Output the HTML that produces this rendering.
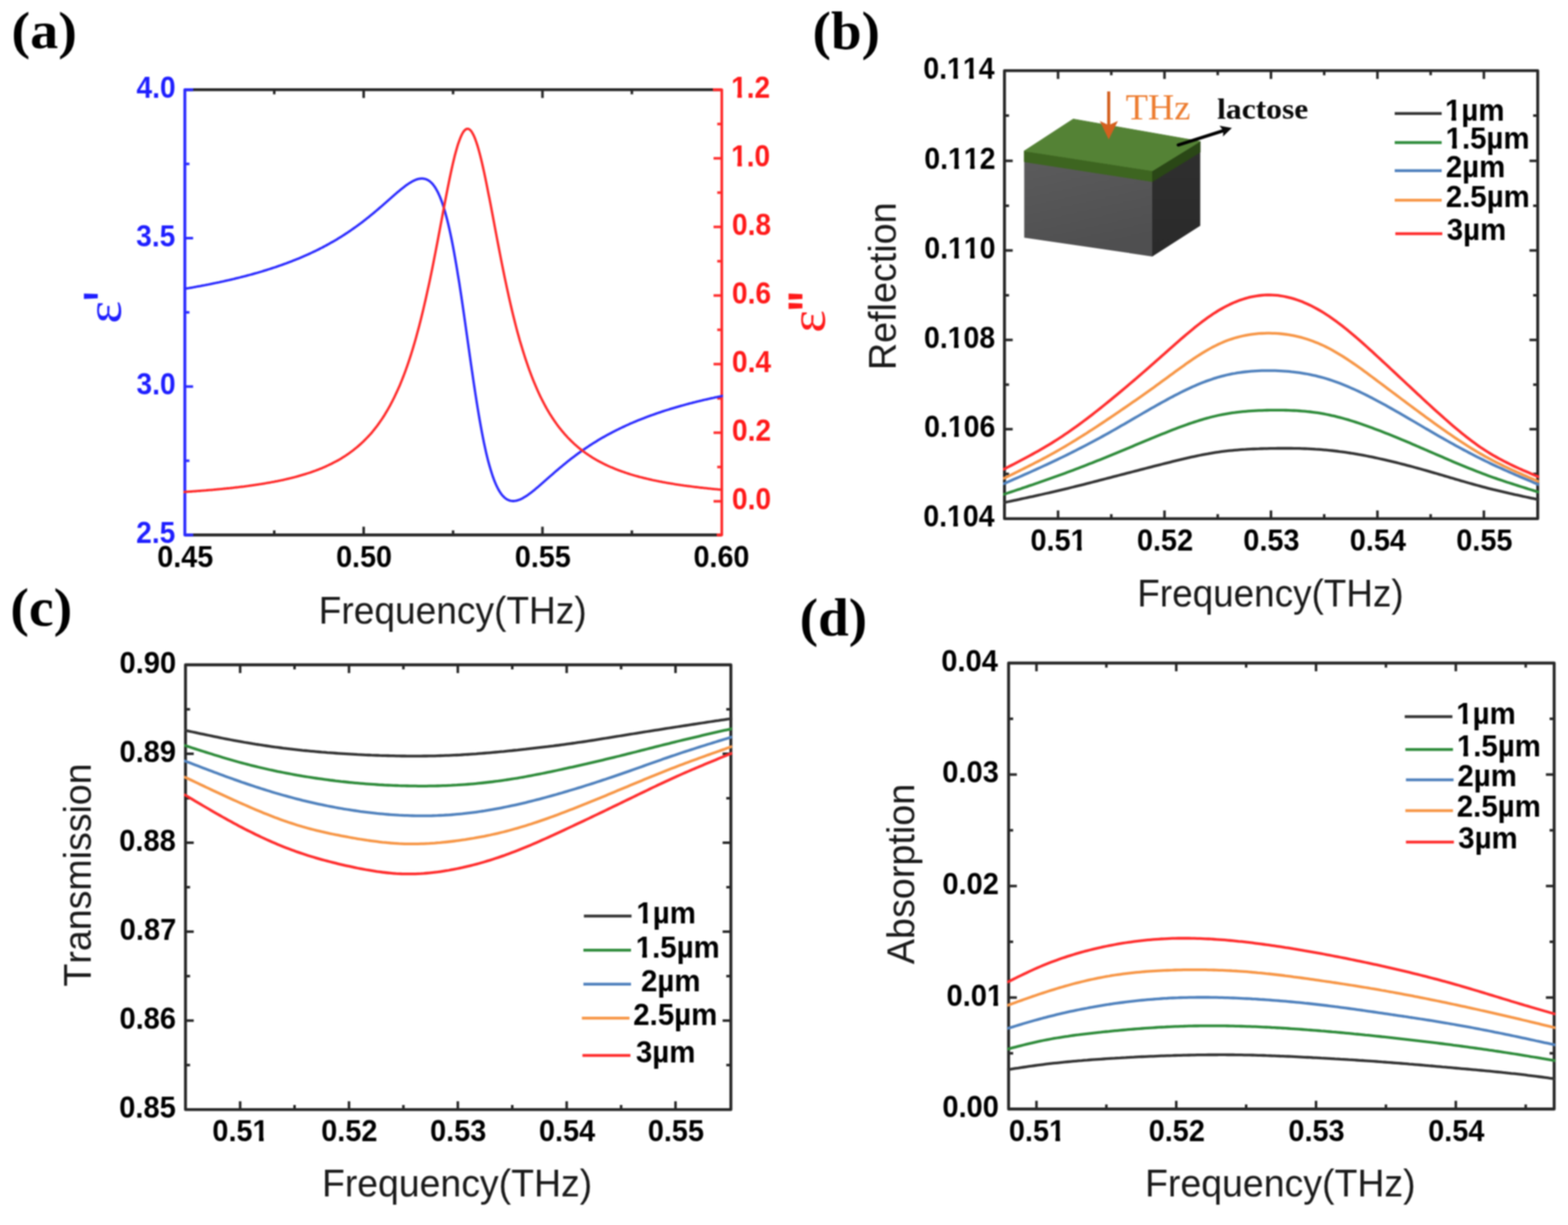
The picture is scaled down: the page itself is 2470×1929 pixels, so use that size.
<!DOCTYPE html>
<html lang="en"><head><meta charset="utf-8"><title>Figure</title>
<style>
html,body{margin:0;padding:0;background:#fff;}
body{width:2470px;height:1929px;overflow:hidden;}
svg{display:block;}
text{white-space:pre;font-kerning:none;font-variant-ligatures:none;}
</style></head><body>
<svg width="2470" height="1929" viewBox="0 0 2470 1929">
<rect width="2470" height="1929" fill="#fff"/>
<g style="filter:blur(1px)">
<rect x="-20" y="-20" width="2510" height="1969" fill="#fff"/>
<clipPath id="ca"><rect x="288.9" y="141.3" width="850.2" height="701.1"/></clipPath>
<line x1="291.2" y1="141.3" x2="1137" y2="141.3" stroke="#262626" stroke-width="4.6" stroke-linecap="butt"/>
<line x1="291.2" y1="842.4" x2="1137" y2="842.4" stroke="#262626" stroke-width="4.6" stroke-linecap="butt"/>
<line x1="291.2" y1="141.3" x2="291.2" y2="842.4" stroke="#2b2bff" stroke-width="4.6" stroke-linecap="round"/>
<line x1="1137" y1="141.3" x2="1137" y2="842.4" stroke="#ff2a2a" stroke-width="4.2" stroke-linecap="round"/>
<line x1="291.2" y1="141.3" x2="304.4" y2="141.3" stroke="#2b2bff" stroke-width="4.6" stroke-linecap="butt"/>
<line x1="291.2" y1="842.4" x2="304.4" y2="842.4" stroke="#2b2bff" stroke-width="4.6" stroke-linecap="butt"/>
<line x1="1123" y1="141.3" x2="1137" y2="141.3" stroke="#ff2a2a" stroke-width="4.6" stroke-linecap="butt"/>
<line x1="1129" y1="842.4" x2="1137" y2="842.4" stroke="#ff2a2a" stroke-width="4.6" stroke-linecap="butt"/>
<line x1="572.87" y1="141.3" x2="572.87" y2="154.3" stroke="#262626" stroke-width="4" stroke-linecap="butt"/>
<line x1="854.53" y1="141.3" x2="854.53" y2="154.3" stroke="#262626" stroke-width="4" stroke-linecap="butt"/>
<line x1="432.03" y1="141.3" x2="432.03" y2="148.5" stroke="#262626" stroke-width="4" stroke-linecap="butt"/>
<line x1="713.7" y1="141.3" x2="713.7" y2="148.5" stroke="#262626" stroke-width="4" stroke-linecap="butt"/>
<line x1="995.37" y1="141.3" x2="995.37" y2="148.5" stroke="#262626" stroke-width="4" stroke-linecap="butt"/>
<line x1="572.87" y1="842.4" x2="572.87" y2="829.4" stroke="#262626" stroke-width="4" stroke-linecap="butt"/>
<line x1="854.53" y1="842.4" x2="854.53" y2="829.4" stroke="#262626" stroke-width="4" stroke-linecap="butt"/>
<line x1="432.03" y1="842.4" x2="432.03" y2="835.2" stroke="#262626" stroke-width="4" stroke-linecap="butt"/>
<line x1="713.7" y1="842.4" x2="713.7" y2="835.2" stroke="#262626" stroke-width="4" stroke-linecap="butt"/>
<line x1="995.37" y1="842.4" x2="995.37" y2="835.2" stroke="#262626" stroke-width="4" stroke-linecap="butt"/>
<line x1="291.2" y1="375" x2="304.2" y2="375" stroke="#2b2bff" stroke-width="4" stroke-linecap="butt"/>
<line x1="291.2" y1="608.7" x2="304.2" y2="608.7" stroke="#2b2bff" stroke-width="4" stroke-linecap="butt"/>
<line x1="291.2" y1="258.15" x2="298.4" y2="258.15" stroke="#2b2bff" stroke-width="4" stroke-linecap="butt"/>
<line x1="291.2" y1="491.85" x2="298.4" y2="491.85" stroke="#2b2bff" stroke-width="4" stroke-linecap="butt"/>
<line x1="291.2" y1="725.55" x2="298.4" y2="725.55" stroke="#2b2bff" stroke-width="4" stroke-linecap="butt"/>
<line x1="1137" y1="249.32" x2="1124" y2="249.32" stroke="#ff2a2a" stroke-width="4" stroke-linecap="butt"/>
<line x1="1137" y1="357.33" x2="1124" y2="357.33" stroke="#ff2a2a" stroke-width="4" stroke-linecap="butt"/>
<line x1="1137" y1="465.35" x2="1124" y2="465.35" stroke="#ff2a2a" stroke-width="4" stroke-linecap="butt"/>
<line x1="1137" y1="573.37" x2="1124" y2="573.37" stroke="#ff2a2a" stroke-width="4" stroke-linecap="butt"/>
<line x1="1137" y1="681.38" x2="1124" y2="681.38" stroke="#ff2a2a" stroke-width="4" stroke-linecap="butt"/>
<line x1="1137" y1="789.4" x2="1124" y2="789.4" stroke="#ff2a2a" stroke-width="4" stroke-linecap="butt"/>
<line x1="1137" y1="195.31" x2="1129.8" y2="195.31" stroke="#ff2a2a" stroke-width="4" stroke-linecap="butt"/>
<line x1="1137" y1="303.32" x2="1129.8" y2="303.32" stroke="#ff2a2a" stroke-width="4" stroke-linecap="butt"/>
<line x1="1137" y1="411.34" x2="1129.8" y2="411.34" stroke="#ff2a2a" stroke-width="4" stroke-linecap="butt"/>
<line x1="1137" y1="519.36" x2="1129.8" y2="519.36" stroke="#ff2a2a" stroke-width="4" stroke-linecap="butt"/>
<line x1="1137" y1="627.38" x2="1129.8" y2="627.38" stroke="#ff2a2a" stroke-width="4" stroke-linecap="butt"/>
<line x1="1137" y1="735.39" x2="1129.8" y2="735.39" stroke="#ff2a2a" stroke-width="4" stroke-linecap="butt"/>
<path d="M288.9 455.1 L290.7 454.8 L292.4 454.5 L294.1 454.2 L295.8 454.0 L297.5 453.7 L299.2 453.4 L300.9 453.1 L302.6 452.8 L304.3 452.5 L306.0 452.2 L307.7 451.8 L309.4 451.5 L311.1 451.2 L312.8 450.9 L314.5 450.6 L316.2 450.3 L317.9 449.9 L319.6 449.6 L321.3 449.3 L323.0 449.0 L324.7 448.6 L326.4 448.3 L328.1 448.0 L329.8 447.6 L331.5 447.3 L333.2 446.9 L334.9 446.6 L336.6 446.2 L338.3 445.9 L340.1 445.5 L341.8 445.2 L343.5 444.8 L345.2 444.5 L346.9 444.1 L348.6 443.7 L350.3 443.4 L352.0 443.0 L353.7 442.6 L355.4 442.2 L357.1 441.8 L358.8 441.4 L360.5 441.1 L362.2 440.7 L363.9 440.3 L365.6 439.9 L367.3 439.5 L369.0 439.1 L370.7 438.6 L372.4 438.2 L374.1 437.8 L375.8 437.4 L377.5 437.0 L379.2 436.5 L380.9 436.1 L382.6 435.7 L384.3 435.2 L386.0 434.8 L387.8 434.3 L389.5 433.9 L391.2 433.4 L392.9 433.0 L394.6 432.5 L396.3 432.1 L398.0 431.6 L399.7 431.1 L401.4 430.6 L403.1 430.2 L404.8 429.7 L406.5 429.2 L408.2 428.7 L409.9 428.2 L411.6 427.7 L413.3 427.2 L415.0 426.6 L416.7 426.1 L418.4 425.6 L420.1 425.1 L421.8 424.5 L423.5 424.0 L425.2 423.5 L426.9 422.9 L428.6 422.4 L430.3 421.8 L432.0 421.2 L433.7 420.7 L435.5 420.1 L437.2 419.5 L438.9 418.9 L440.6 418.3 L442.3 417.7 L444.0 417.1 L445.7 416.5 L447.4 415.9 L449.1 415.3 L450.8 414.7 L452.5 414.0 L454.2 413.4 L455.9 412.8 L457.6 412.1 L459.3 411.5 L461.0 410.8 L462.7 410.1 L464.4 409.4 L466.1 408.8 L467.8 408.1 L469.5 407.4 L471.2 406.7 L472.9 406.0 L474.6 405.2 L476.3 404.5 L478.0 403.8 L479.7 403.0 L481.4 402.3 L483.2 401.5 L484.9 400.8 L486.6 400.0 L488.3 399.2 L490.0 398.4 L491.7 397.6 L493.4 396.8 L495.1 396.0 L496.8 395.2 L498.5 394.4 L500.2 393.5 L501.9 392.7 L503.6 391.8 L505.3 390.9 L507.0 390.1 L508.7 389.2 L510.4 388.3 L512.1 387.4 L513.8 386.5 L515.5 385.5 L517.2 384.6 L518.9 383.7 L520.6 382.7 L522.3 381.7 L524.0 380.8 L525.7 379.8 L527.4 378.8 L529.1 377.8 L530.9 376.8 L532.6 375.7 L534.3 374.7 L536.0 373.6 L537.7 372.6 L539.4 371.5 L541.1 370.4 L542.8 369.3 L544.5 368.2 L546.2 367.1 L547.9 366.0 L549.6 364.8 L551.3 363.7 L553.0 362.5 L554.7 361.3 L556.4 360.1 L558.1 358.9 L559.8 357.7 L561.5 356.5 L563.2 355.3 L564.9 354.0 L566.6 352.7 L568.3 351.5 L570.0 350.2 L571.7 348.9 L573.4 347.6 L575.1 346.2 L576.8 344.9 L578.5 343.5 L580.3 342.2 L582.0 340.8 L583.7 339.4 L585.4 338.0 L587.1 336.6 L588.8 335.2 L590.5 333.8 L592.2 332.4 L593.9 330.9 L595.6 329.5 L597.3 328.0 L599.0 326.5 L600.7 325.1 L602.4 323.6 L604.1 322.1 L605.8 320.6 L607.5 319.1 L609.2 317.6 L610.9 316.1 L612.6 314.6 L614.3 313.1 L616.0 311.6 L617.7 310.1 L619.4 308.6 L621.1 307.1 L622.8 305.6 L624.5 304.2 L626.2 302.7 L628.0 301.3 L629.7 299.8 L631.4 298.4 L633.1 297.1 L634.8 295.7 L636.5 294.4 L638.2 293.1 L639.9 291.8 L641.6 290.6 L643.3 289.5 L645.0 288.3 L646.7 287.3 L648.4 286.3 L650.1 285.4 L651.8 284.5 L653.5 283.7 L655.2 283.0 L656.9 282.4 L658.6 281.9 L660.3 281.5 L662.0 281.3 L663.7 281.1 L665.4 281.1 L667.1 281.3 L668.8 281.6 L670.5 282.0 L672.2 282.7 L673.9 283.5 L675.7 284.6 L677.4 285.8 L679.1 287.3 L680.8 289.1 L682.5 291.1 L684.2 293.3 L685.9 295.9 L687.6 298.8 L689.3 301.9 L691.0 305.4 L692.7 309.3 L694.4 313.5 L696.1 318.0 L697.8 323.0 L699.5 328.3 L701.2 334.0 L702.9 340.2 L704.6 346.7 L706.3 353.7 L708.0 361.1 L709.7 368.8 L711.4 377.0 L713.1 385.7 L714.8 394.7 L716.5 404.1 L718.2 413.8 L719.9 423.9 L721.6 434.4 L723.4 445.1 L725.1 456.2 L726.8 467.4 L728.5 479.0 L730.2 490.6 L731.9 502.5 L733.6 514.4 L735.3 526.4 L737.0 538.5 L738.7 550.5 L740.4 562.5 L742.1 574.4 L743.8 586.1 L745.5 597.7 L747.2 609.1 L748.9 620.2 L750.6 631.1 L752.3 641.7 L754.0 652.0 L755.7 661.9 L757.4 671.4 L759.1 680.6 L760.8 689.4 L762.5 697.8 L764.2 705.7 L765.9 713.3 L767.6 720.4 L769.3 727.1 L771.1 733.4 L772.8 739.3 L774.5 744.8 L776.2 750.0 L777.9 754.7 L779.6 759.0 L781.3 763.0 L783.0 766.7 L784.7 770.0 L786.4 773.0 L788.1 775.7 L789.8 778.1 L791.5 780.2 L793.2 782.0 L794.9 783.6 L796.6 785.0 L798.3 786.1 L800.0 787.1 L801.7 787.8 L803.4 788.4 L805.1 788.7 L806.8 788.9 L808.5 789.0 L810.2 788.9 L811.9 788.7 L813.6 788.3 L815.3 787.9 L817.0 787.3 L818.7 786.7 L820.5 785.9 L822.2 785.1 L823.9 784.2 L825.6 783.2 L827.3 782.2 L829.0 781.1 L830.7 780.0 L832.4 778.8 L834.1 777.5 L835.8 776.3 L837.5 775.0 L839.2 773.6 L840.9 772.2 L842.6 770.9 L844.3 769.4 L846.0 768.0 L847.7 766.6 L849.4 765.1 L851.1 763.6 L852.8 762.1 L854.5 760.6 L856.2 759.1 L857.9 757.6 L859.6 756.1 L861.3 754.6 L863.0 753.1 L864.7 751.6 L866.4 750.1 L868.2 748.6 L869.9 747.1 L871.6 745.7 L873.3 744.2 L875.0 742.7 L876.7 741.2 L878.4 739.8 L880.1 738.3 L881.8 736.9 L883.5 735.5 L885.2 734.1 L886.9 732.6 L888.6 731.2 L890.3 729.9 L892.0 728.5 L893.7 727.1 L895.4 725.8 L897.1 724.4 L898.8 723.1 L900.5 721.8 L902.2 720.5 L903.9 719.2 L905.6 717.9 L907.3 716.6 L909.0 715.4 L910.7 714.1 L912.4 712.9 L914.1 711.7 L915.9 710.5 L917.6 709.3 L919.3 708.1 L921.0 706.9 L922.7 705.7 L924.4 704.6 L926.1 703.5 L927.8 702.3 L929.5 701.2 L931.2 700.1 L932.9 699.0 L934.6 697.9 L936.3 696.9 L938.0 695.8 L939.7 694.8 L941.4 693.7 L943.1 692.7 L944.8 691.7 L946.5 690.7 L948.2 689.7 L949.9 688.7 L951.6 687.8 L953.3 686.8 L955.0 685.9 L956.7 684.9 L958.4 684.0 L960.1 683.1 L961.8 682.2 L963.6 681.3 L965.3 680.4 L967.0 679.5 L968.7 678.6 L970.4 677.8 L972.1 676.9 L973.8 676.1 L975.5 675.2 L977.2 674.4 L978.9 673.6 L980.6 672.8 L982.3 672.0 L984.0 671.2 L985.7 670.4 L987.4 669.6 L989.1 668.9 L990.8 668.1 L992.5 667.3 L994.2 666.6 L995.9 665.9 L997.6 665.1 L999.3 664.4 L1001.0 663.7 L1002.7 663.0 L1004.4 662.3 L1006.1 661.6 L1007.8 660.9 L1009.5 660.2 L1011.3 659.6 L1013.0 658.9 L1014.7 658.2 L1016.4 657.6 L1018.1 656.9 L1019.8 656.3 L1021.5 655.6 L1023.2 655.0 L1024.9 654.4 L1026.6 653.8 L1028.3 653.2 L1030.0 652.6 L1031.7 652.0 L1033.4 651.4 L1035.1 650.8 L1036.8 650.2 L1038.5 649.6 L1040.2 649.1 L1041.9 648.5 L1043.6 647.9 L1045.3 647.4 L1047.0 646.8 L1048.7 646.3 L1050.4 645.7 L1052.1 645.2 L1053.8 644.7 L1055.5 644.1 L1057.2 643.6 L1058.9 643.1 L1060.7 642.6 L1062.4 642.1 L1064.1 641.6 L1065.8 641.1 L1067.5 640.6 L1069.2 640.1 L1070.9 639.6 L1072.6 639.1 L1074.3 638.7 L1076.0 638.2 L1077.7 637.7 L1079.4 637.3 L1081.1 636.8 L1082.8 636.3 L1084.5 635.9 L1086.2 635.4 L1087.9 635.0 L1089.6 634.6 L1091.3 634.1 L1093.0 633.7 L1094.7 633.3 L1096.4 632.8 L1098.1 632.4 L1099.8 632.0 L1101.5 631.6 L1103.2 631.2 L1104.9 630.8 L1106.6 630.3 L1108.4 629.9 L1110.1 629.5 L1111.8 629.2 L1113.5 628.8 L1115.2 628.4 L1116.9 628.0 L1118.6 627.6 L1120.3 627.2 L1122.0 626.8 L1123.7 626.5 L1125.4 626.1 L1127.1 625.7 L1128.8 625.4 L1130.5 625.0 L1132.2 624.6 L1133.9 624.3 L1135.6 623.9 L1137.3 623.6 L1139.0 623.2" fill="none" stroke="#2b2bff" stroke-width="3.8" stroke-linejoin="round" stroke-linecap="butt" clip-path="url(#ca)"/>
<path d="M288.9 774.8 L290.7 774.7 L292.4 774.5 L294.1 774.4 L295.8 774.3 L297.5 774.2 L299.2 774.1 L300.9 774.0 L302.6 773.9 L304.3 773.7 L306.0 773.6 L307.7 773.5 L309.4 773.4 L311.1 773.2 L312.8 773.1 L314.5 773.0 L316.2 772.9 L317.9 772.7 L319.6 772.6 L321.3 772.4 L323.0 772.3 L324.7 772.2 L326.4 772.0 L328.1 771.9 L329.8 771.7 L331.5 771.6 L333.2 771.5 L334.9 771.3 L336.6 771.2 L338.3 771.0 L340.1 770.9 L341.8 770.7 L343.5 770.5 L345.2 770.4 L346.9 770.2 L348.6 770.1 L350.3 769.9 L352.0 769.7 L353.7 769.5 L355.4 769.4 L357.1 769.2 L358.8 769.0 L360.5 768.8 L362.2 768.7 L363.9 768.5 L365.6 768.3 L367.3 768.1 L369.0 767.9 L370.7 767.7 L372.4 767.5 L374.1 767.3 L375.8 767.1 L377.5 766.9 L379.2 766.7 L380.9 766.5 L382.6 766.3 L384.3 766.1 L386.0 765.8 L387.8 765.6 L389.5 765.4 L391.2 765.2 L392.9 764.9 L394.6 764.7 L396.3 764.5 L398.0 764.2 L399.7 764.0 L401.4 763.7 L403.1 763.5 L404.8 763.2 L406.5 763.0 L408.2 762.7 L409.9 762.4 L411.6 762.2 L413.3 761.9 L415.0 761.6 L416.7 761.3 L418.4 761.0 L420.1 760.7 L421.8 760.4 L423.5 760.1 L425.2 759.8 L426.9 759.5 L428.6 759.2 L430.3 758.9 L432.0 758.6 L433.7 758.2 L435.5 757.9 L437.2 757.6 L438.9 757.2 L440.6 756.9 L442.3 756.5 L444.0 756.1 L445.7 755.8 L447.4 755.4 L449.1 755.0 L450.8 754.6 L452.5 754.2 L454.2 753.8 L455.9 753.4 L457.6 753.0 L459.3 752.6 L461.0 752.2 L462.7 751.7 L464.4 751.3 L466.1 750.8 L467.8 750.4 L469.5 749.9 L471.2 749.4 L472.9 748.9 L474.6 748.4 L476.3 747.9 L478.0 747.4 L479.7 746.9 L481.4 746.4 L483.2 745.8 L484.9 745.3 L486.6 744.7 L488.3 744.2 L490.0 743.6 L491.7 743.0 L493.4 742.4 L495.1 741.8 L496.8 741.2 L498.5 740.5 L500.2 739.9 L501.9 739.2 L503.6 738.5 L505.3 737.9 L507.0 737.2 L508.7 736.4 L510.4 735.7 L512.1 735.0 L513.8 734.2 L515.5 733.4 L517.2 732.6 L518.9 731.8 L520.6 731.0 L522.3 730.2 L524.0 729.3 L525.7 728.4 L527.4 727.5 L529.1 726.6 L530.9 725.7 L532.6 724.8 L534.3 723.8 L536.0 722.8 L537.7 721.8 L539.4 720.7 L541.1 719.7 L542.8 718.6 L544.5 717.5 L546.2 716.3 L547.9 715.2 L549.6 714.0 L551.3 712.8 L553.0 711.5 L554.7 710.3 L556.4 709.0 L558.1 707.6 L559.8 706.3 L561.5 704.9 L563.2 703.5 L564.9 702.0 L566.6 700.5 L568.3 699.0 L570.0 697.4 L571.7 695.8 L573.4 694.1 L575.1 692.5 L576.8 690.7 L578.5 689.0 L580.3 687.1 L582.0 685.3 L583.7 683.4 L585.4 681.4 L587.1 679.4 L588.8 677.3 L590.5 675.2 L592.2 673.0 L593.9 670.8 L595.6 668.5 L597.3 666.1 L599.0 663.7 L600.7 661.2 L602.4 658.7 L604.1 656.1 L605.8 653.4 L607.5 650.6 L609.2 647.8 L610.9 644.9 L612.6 641.9 L614.3 638.8 L616.0 635.6 L617.7 632.4 L619.4 629.0 L621.1 625.6 L622.8 622.0 L624.5 618.4 L626.2 614.7 L628.0 610.8 L629.7 606.9 L631.4 602.8 L633.1 598.6 L634.8 594.3 L636.5 589.9 L638.2 585.3 L639.9 580.7 L641.6 575.9 L643.3 570.9 L645.0 565.8 L646.7 560.6 L648.4 555.2 L650.1 549.7 L651.8 544.0 L653.5 538.2 L655.2 532.2 L656.9 526.1 L658.6 519.8 L660.3 513.4 L662.0 506.7 L663.7 500.0 L665.4 493.0 L667.1 485.9 L668.8 478.6 L670.5 471.2 L672.2 463.6 L673.9 455.8 L675.7 447.9 L677.4 439.8 L679.1 431.6 L680.8 423.3 L682.5 414.8 L684.2 406.2 L685.9 397.5 L687.6 388.7 L689.3 379.8 L691.0 370.9 L692.7 361.9 L694.4 352.8 L696.1 343.8 L697.8 334.8 L699.5 325.8 L701.2 316.9 L702.9 308.1 L704.6 299.4 L706.3 290.8 L708.0 282.5 L709.7 274.4 L711.4 266.5 L713.1 258.9 L714.8 251.7 L716.5 244.8 L718.2 238.4 L719.9 232.4 L721.6 226.8 L723.4 221.8 L725.1 217.3 L726.8 213.4 L728.5 210.0 L730.2 207.3 L731.9 205.2 L733.6 203.8 L735.3 203.0 L737.0 202.8 L738.7 203.3 L740.4 204.5 L742.1 206.3 L743.8 208.8 L745.5 211.9 L747.2 215.5 L748.9 219.8 L750.6 224.6 L752.3 229.9 L754.0 235.7 L755.7 242.0 L757.4 248.7 L759.1 255.8 L760.8 263.2 L762.5 270.9 L764.2 278.9 L765.9 287.2 L767.6 295.7 L769.3 304.3 L771.1 313.1 L772.8 321.9 L774.5 330.9 L776.2 339.9 L777.9 348.9 L779.6 358.0 L781.3 367.0 L783.0 376.0 L784.7 384.9 L786.4 393.7 L788.1 402.5 L789.8 411.1 L791.5 419.6 L793.2 428.0 L794.9 436.3 L796.6 444.4 L798.3 452.4 L800.0 460.2 L801.7 467.9 L803.4 475.4 L805.1 482.8 L806.8 490.0 L808.5 497.0 L810.2 503.8 L811.9 510.5 L813.6 517.1 L815.3 523.4 L817.0 529.6 L818.7 535.7 L820.5 541.6 L822.2 547.3 L823.9 552.9 L825.6 558.3 L827.3 563.6 L829.0 568.7 L830.7 573.7 L832.4 578.6 L834.1 583.3 L835.8 587.9 L837.5 592.4 L839.2 596.8 L840.9 601.0 L842.6 605.1 L844.3 609.1 L846.0 613.0 L847.7 616.8 L849.4 620.5 L851.1 624.1 L852.8 627.5 L854.5 630.9 L856.2 634.2 L857.9 637.4 L859.6 640.5 L861.3 643.6 L863.0 646.5 L864.7 649.4 L866.4 652.2 L868.2 654.9 L869.9 657.6 L871.6 660.1 L873.3 662.7 L875.0 665.1 L876.7 667.5 L878.4 669.8 L880.1 672.1 L881.8 674.3 L883.5 676.4 L885.2 678.5 L886.9 680.5 L888.6 682.5 L890.3 684.4 L892.0 686.3 L893.7 688.2 L895.4 690.0 L897.1 691.7 L898.8 693.4 L900.5 695.1 L902.2 696.7 L903.9 698.3 L905.6 699.8 L907.3 701.4 L909.0 702.8 L910.7 704.3 L912.4 705.7 L914.1 707.1 L915.9 708.4 L917.6 709.7 L919.3 711.0 L921.0 712.2 L922.7 713.5 L924.4 714.7 L926.1 715.8 L927.8 717.0 L929.5 718.1 L931.2 719.2 L932.9 720.3 L934.6 721.3 L936.3 722.3 L938.0 723.3 L939.7 724.3 L941.4 725.3 L943.1 726.2 L944.8 727.1 L946.5 728.0 L948.2 728.9 L949.9 729.8 L951.6 730.6 L953.3 731.5 L955.0 732.3 L956.7 733.1 L958.4 733.9 L960.1 734.6 L961.8 735.4 L963.6 736.1 L965.3 736.8 L967.0 737.5 L968.7 738.2 L970.4 738.9 L972.1 739.6 L973.8 740.2 L975.5 740.9 L977.2 741.5 L978.9 742.1 L980.6 742.7 L982.3 743.3 L984.0 743.9 L985.7 744.5 L987.4 745.0 L989.1 745.6 L990.8 746.1 L992.5 746.7 L994.2 747.2 L995.9 747.7 L997.6 748.2 L999.3 748.7 L1001.0 749.2 L1002.7 749.7 L1004.4 750.1 L1006.1 750.6 L1007.8 751.1 L1009.5 751.5 L1011.3 751.9 L1013.0 752.4 L1014.7 752.8 L1016.4 753.2 L1018.1 753.6 L1019.8 754.0 L1021.5 754.4 L1023.2 754.8 L1024.9 755.2 L1026.6 755.6 L1028.3 756.0 L1030.0 756.3 L1031.7 756.7 L1033.4 757.0 L1035.1 757.4 L1036.8 757.7 L1038.5 758.1 L1040.2 758.4 L1041.9 758.7 L1043.6 759.1 L1045.3 759.4 L1047.0 759.7 L1048.7 760.0 L1050.4 760.3 L1052.1 760.6 L1053.8 760.9 L1055.5 761.2 L1057.2 761.5 L1058.9 761.7 L1060.7 762.0 L1062.4 762.3 L1064.1 762.6 L1065.8 762.8 L1067.5 763.1 L1069.2 763.3 L1070.9 763.6 L1072.6 763.9 L1074.3 764.1 L1076.0 764.3 L1077.7 764.6 L1079.4 764.8 L1081.1 765.0 L1082.8 765.3 L1084.5 765.5 L1086.2 765.7 L1087.9 765.9 L1089.6 766.2 L1091.3 766.4 L1093.0 766.6 L1094.7 766.8 L1096.4 767.0 L1098.1 767.2 L1099.8 767.4 L1101.5 767.6 L1103.2 767.8 L1104.9 768.0 L1106.6 768.2 L1108.4 768.4 L1110.1 768.6 L1111.8 768.7 L1113.5 768.9 L1115.2 769.1 L1116.9 769.3 L1118.6 769.4 L1120.3 769.6 L1122.0 769.8 L1123.7 770.0 L1125.4 770.1 L1127.1 770.3 L1128.8 770.4 L1130.5 770.6 L1132.2 770.8 L1133.9 770.9 L1135.6 771.1 L1137.3 771.2 L1139.0 771.4" fill="none" stroke="#ff2a2a" stroke-width="3.8" stroke-linejoin="round" stroke-linecap="butt" clip-path="url(#ca)"/>
<g transform="translate(215.06 153.9) scale(0.9050 1)"><text font-family="'Liberation Sans',sans-serif" font-weight="bold" font-size="48.9" fill="#1f1fff">4.0</text></g>
<g transform="translate(214.61 387.6) scale(0.9050 1)"><text font-family="'Liberation Sans',sans-serif" font-weight="bold" font-size="48.9" fill="#1f1fff">3.5</text></g>
<g transform="translate(215.06 621.3) scale(0.9050 1)"><text font-family="'Liberation Sans',sans-serif" font-weight="bold" font-size="48.9" fill="#1f1fff">3.0</text></g>
<g transform="translate(214.61 855) scale(0.9050 1)"><text font-family="'Liberation Sans',sans-serif" font-weight="bold" font-size="48.9" fill="#1f1fff">2.5</text></g>
<g transform="translate(1151.7 153.8) scale(0.9050 1)"><text font-family="'Liberation Sans',sans-serif" font-weight="bold" font-size="48.9" fill="#ff1a1a">1.2</text><rect x="0.98" y="-6.19" width="9.92" height="7.39" fill="#fff"/><rect x="18.64" y="-6.19" width="8.56" height="7.39" fill="#fff"/></g>
<g transform="translate(1151.7 261.82) scale(0.9050 1)"><text font-family="'Liberation Sans',sans-serif" font-weight="bold" font-size="48.9" fill="#ff1a1a">1.0</text><rect x="0.98" y="-6.19" width="9.92" height="7.39" fill="#fff"/><rect x="18.64" y="-6.19" width="8.56" height="7.39" fill="#fff"/></g>
<g transform="translate(1153.03 369.83) scale(0.9050 1)"><text font-family="'Liberation Sans',sans-serif" font-weight="bold" font-size="48.9" fill="#ff1a1a">0.8</text></g>
<g transform="translate(1153.03 477.85) scale(0.9050 1)"><text font-family="'Liberation Sans',sans-serif" font-weight="bold" font-size="48.9" fill="#ff1a1a">0.6</text></g>
<g transform="translate(1153.03 585.87) scale(0.9050 1)"><text font-family="'Liberation Sans',sans-serif" font-weight="bold" font-size="48.9" fill="#ff1a1a">0.4</text></g>
<g transform="translate(1153.03 693.88) scale(0.9050 1)"><text font-family="'Liberation Sans',sans-serif" font-weight="bold" font-size="48.9" fill="#ff1a1a">0.2</text></g>
<g transform="translate(1153.03 801.9) scale(0.9050 1)"><text font-family="'Liberation Sans',sans-serif" font-weight="bold" font-size="48.9" fill="#ff1a1a">0.0</text></g>
<g transform="translate(247.75 892.5) scale(0.9450 1)"><text font-family="'Liberation Sans',sans-serif" font-weight="bold" font-size="47.9" fill="#000">0.45</text></g>
<g transform="translate(529.42 892.5) scale(0.9450 1)"><text font-family="'Liberation Sans',sans-serif" font-weight="bold" font-size="47.9" fill="#000">0.50</text></g>
<g transform="translate(811.08 892.5) scale(0.9450 1)"><text font-family="'Liberation Sans',sans-serif" font-weight="bold" font-size="47.9" fill="#000">0.55</text></g>
<g transform="translate(1092.45 892.5) scale(0.9450 1)"><text font-family="'Liberation Sans',sans-serif" font-weight="bold" font-size="47.9" fill="#000">0.60</text></g>
<g transform="translate(502.03 981.9) scale(0.9617 1)"><text font-family="'Liberation Sans',sans-serif" font-weight="normal" font-size="60.8" fill="#1a1a1a">Frequency(THz)</text></g>
<text transform="translate(189.52 509.49) rotate(-90) scale(1.0891 1)" font-family="'Liberation Serif',serif" font-weight="normal" font-size="77.92" fill="#1f1fff">ε</text>
<text transform="translate(191.75 473.96) rotate(-90) scale(0.7192 1)" font-family="'Liberation Sans',sans-serif" font-weight="bold" font-size="87.6" fill="#1f1fff">'</text>
<text transform="translate(1299.22 523.99) rotate(-90) scale(1.0891 1)" font-family="'Liberation Serif',serif" font-weight="normal" font-size="77.92" fill="#ff1a1a">ε</text>
<text transform="translate(1302.33 491.15) rotate(-90) scale(0.8088 1)" font-family="'Liberation Sans',sans-serif" font-weight="bold" font-size="88" fill="#ff1a1a">"</text>
<text transform="translate(17.96 75.63) scale(1.0687 1)" font-family="'Liberation Serif',serif" font-weight="bold" font-size="82.83" fill="#000">(a)</text>
<clipPath id="cb"><rect x="1580" y="111.3" width="844.6" height="705.5"/></clipPath>
<rect x="1582.3" y="111.3" width="840" height="705.5" fill="none" stroke="#262626" stroke-width="4.6" stroke-linejoin="round"/>
<line x1="1666.7" y1="111.3" x2="1666.7" y2="124.3" stroke="#262626" stroke-width="4" stroke-linecap="butt"/>
<line x1="1834.4" y1="111.3" x2="1834.4" y2="124.3" stroke="#262626" stroke-width="4" stroke-linecap="butt"/>
<line x1="2002.1" y1="111.3" x2="2002.1" y2="124.3" stroke="#262626" stroke-width="4" stroke-linecap="butt"/>
<line x1="2169.8" y1="111.3" x2="2169.8" y2="124.3" stroke="#262626" stroke-width="4" stroke-linecap="butt"/>
<line x1="2337.5" y1="111.3" x2="2337.5" y2="124.3" stroke="#262626" stroke-width="4" stroke-linecap="butt"/>
<line x1="1750.55" y1="111.3" x2="1750.55" y2="118.5" stroke="#262626" stroke-width="4" stroke-linecap="butt"/>
<line x1="1918.25" y1="111.3" x2="1918.25" y2="118.5" stroke="#262626" stroke-width="4" stroke-linecap="butt"/>
<line x1="2085.95" y1="111.3" x2="2085.95" y2="118.5" stroke="#262626" stroke-width="4" stroke-linecap="butt"/>
<line x1="2253.65" y1="111.3" x2="2253.65" y2="118.5" stroke="#262626" stroke-width="4" stroke-linecap="butt"/>
<line x1="1666.7" y1="816.8" x2="1666.7" y2="803.8" stroke="#262626" stroke-width="4" stroke-linecap="butt"/>
<line x1="1834.4" y1="816.8" x2="1834.4" y2="803.8" stroke="#262626" stroke-width="4" stroke-linecap="butt"/>
<line x1="2002.1" y1="816.8" x2="2002.1" y2="803.8" stroke="#262626" stroke-width="4" stroke-linecap="butt"/>
<line x1="2169.8" y1="816.8" x2="2169.8" y2="803.8" stroke="#262626" stroke-width="4" stroke-linecap="butt"/>
<line x1="2337.5" y1="816.8" x2="2337.5" y2="803.8" stroke="#262626" stroke-width="4" stroke-linecap="butt"/>
<line x1="1750.55" y1="816.8" x2="1750.55" y2="809.6" stroke="#262626" stroke-width="4" stroke-linecap="butt"/>
<line x1="1918.25" y1="816.8" x2="1918.25" y2="809.6" stroke="#262626" stroke-width="4" stroke-linecap="butt"/>
<line x1="2085.95" y1="816.8" x2="2085.95" y2="809.6" stroke="#262626" stroke-width="4" stroke-linecap="butt"/>
<line x1="2253.65" y1="816.8" x2="2253.65" y2="809.6" stroke="#262626" stroke-width="4" stroke-linecap="butt"/>
<line x1="1582.3" y1="253.3" x2="1595.3" y2="253.3" stroke="#262626" stroke-width="4" stroke-linecap="butt"/>
<line x1="1582.3" y1="394.4" x2="1595.3" y2="394.4" stroke="#262626" stroke-width="4" stroke-linecap="butt"/>
<line x1="1582.3" y1="535.3" x2="1595.3" y2="535.3" stroke="#262626" stroke-width="4" stroke-linecap="butt"/>
<line x1="1582.3" y1="675.8" x2="1595.3" y2="675.8" stroke="#262626" stroke-width="4" stroke-linecap="butt"/>
<line x1="1582.3" y1="182" x2="1589.5" y2="182" stroke="#262626" stroke-width="4" stroke-linecap="butt"/>
<line x1="1582.3" y1="324" x2="1589.5" y2="324" stroke="#262626" stroke-width="4" stroke-linecap="butt"/>
<line x1="1582.3" y1="465" x2="1589.5" y2="465" stroke="#262626" stroke-width="4" stroke-linecap="butt"/>
<line x1="1582.3" y1="605.7" x2="1589.5" y2="605.7" stroke="#262626" stroke-width="4" stroke-linecap="butt"/>
<line x1="1582.3" y1="746.3" x2="1589.5" y2="746.3" stroke="#262626" stroke-width="4" stroke-linecap="butt"/>
<line x1="2422.3" y1="253.3" x2="2409.3" y2="253.3" stroke="#262626" stroke-width="4" stroke-linecap="butt"/>
<line x1="2422.3" y1="394.4" x2="2409.3" y2="394.4" stroke="#262626" stroke-width="4" stroke-linecap="butt"/>
<line x1="2422.3" y1="535.3" x2="2409.3" y2="535.3" stroke="#262626" stroke-width="4" stroke-linecap="butt"/>
<line x1="2422.3" y1="675.8" x2="2409.3" y2="675.8" stroke="#262626" stroke-width="4" stroke-linecap="butt"/>
<line x1="2422.3" y1="182" x2="2415.1" y2="182" stroke="#262626" stroke-width="4" stroke-linecap="butt"/>
<line x1="2422.3" y1="324" x2="2415.1" y2="324" stroke="#262626" stroke-width="4" stroke-linecap="butt"/>
<line x1="2422.3" y1="465" x2="2415.1" y2="465" stroke="#262626" stroke-width="4" stroke-linecap="butt"/>
<line x1="2422.3" y1="605.7" x2="2415.1" y2="605.7" stroke="#262626" stroke-width="4" stroke-linecap="butt"/>
<line x1="2422.3" y1="746.3" x2="2415.1" y2="746.3" stroke="#262626" stroke-width="4" stroke-linecap="butt"/>
<path d="M1580.0 791.8 L1584.2 790.9 L1588.5 790.0 L1592.7 789.1 L1597.0 788.2 L1601.2 787.3 L1605.5 786.4 L1609.7 785.4 L1614.0 784.5 L1618.2 783.6 L1622.4 782.7 L1626.7 781.8 L1630.9 780.8 L1635.2 779.9 L1639.4 779.0 L1643.7 778.0 L1647.9 777.0 L1652.2 776.1 L1656.4 775.1 L1660.6 774.1 L1664.9 773.1 L1669.1 772.1 L1673.4 771.1 L1677.6 770.1 L1681.9 769.1 L1686.1 768.0 L1690.3 767.0 L1694.6 765.9 L1698.8 764.9 L1703.1 763.8 L1707.3 762.8 L1711.6 761.7 L1715.8 760.6 L1720.1 759.5 L1724.3 758.4 L1728.5 757.3 L1732.8 756.2 L1737.0 755.1 L1741.3 754.0 L1745.5 752.9 L1749.8 751.8 L1754.0 750.7 L1758.3 749.6 L1762.5 748.5 L1766.7 747.4 L1771.0 746.3 L1775.2 745.2 L1779.5 744.1 L1783.7 743.0 L1788.0 741.9 L1792.2 740.8 L1796.5 739.7 L1800.7 738.6 L1804.9 737.5 L1809.2 736.4 L1813.4 735.3 L1817.7 734.2 L1821.9 733.2 L1826.2 732.1 L1830.4 731.0 L1834.7 729.9 L1838.9 728.8 L1843.1 727.8 L1847.4 726.7 L1851.6 725.7 L1855.9 724.6 L1860.1 723.6 L1864.4 722.6 L1868.6 721.6 L1872.9 720.6 L1877.1 719.7 L1881.3 718.8 L1885.6 717.9 L1889.8 717.0 L1894.1 716.1 L1898.3 715.3 L1902.6 714.6 L1906.8 713.8 L1911.0 713.1 L1915.3 712.4 L1919.5 711.8 L1923.8 711.2 L1928.0 710.7 L1932.3 710.2 L1936.5 709.7 L1940.8 709.3 L1945.0 708.9 L1949.2 708.6 L1953.5 708.2 L1957.7 707.9 L1962.0 707.7 L1966.2 707.4 L1970.5 707.2 L1974.7 707.0 L1979.0 706.8 L1983.2 706.7 L1987.4 706.5 L1991.7 706.4 L1995.9 706.3 L2000.2 706.2 L2004.4 706.2 L2008.7 706.1 L2012.9 706.0 L2017.2 706.0 L2021.4 706.0 L2025.6 706.0 L2029.9 706.0 L2034.1 706.0 L2038.4 706.1 L2042.6 706.2 L2046.9 706.2 L2051.1 706.4 L2055.4 706.5 L2059.6 706.7 L2063.8 706.9 L2068.1 707.1 L2072.3 707.4 L2076.6 707.6 L2080.8 707.9 L2085.1 708.3 L2089.3 708.7 L2093.6 709.1 L2097.8 709.5 L2102.0 710.0 L2106.3 710.5 L2110.5 711.1 L2114.8 711.6 L2119.0 712.2 L2123.3 712.9 L2127.5 713.5 L2131.7 714.2 L2136.0 714.9 L2140.2 715.7 L2144.5 716.4 L2148.7 717.2 L2153.0 718.0 L2157.2 718.9 L2161.5 719.7 L2165.7 720.6 L2169.9 721.5 L2174.2 722.5 L2178.4 723.4 L2182.7 724.4 L2186.9 725.4 L2191.2 726.4 L2195.4 727.4 L2199.7 728.4 L2203.9 729.5 L2208.1 730.6 L2212.4 731.7 L2216.6 732.8 L2220.9 733.9 L2225.1 735.0 L2229.4 736.2 L2233.6 737.4 L2237.9 738.5 L2242.1 739.7 L2246.3 740.9 L2250.6 742.1 L2254.8 743.4 L2259.1 744.6 L2263.3 745.8 L2267.6 747.1 L2271.8 748.3 L2276.1 749.6 L2280.3 750.8 L2284.5 752.1 L2288.8 753.3 L2293.0 754.6 L2297.3 755.8 L2301.5 757.1 L2305.8 758.3 L2310.0 759.5 L2314.3 760.7 L2318.5 761.9 L2322.7 763.1 L2327.0 764.3 L2331.2 765.4 L2335.5 766.6 L2339.7 767.7 L2344.0 768.8 L2348.2 769.8 L2352.4 770.9 L2356.7 771.9 L2360.9 772.9 L2365.2 773.9 L2369.4 774.9 L2373.7 775.9 L2377.9 776.9 L2382.2 777.8 L2386.4 778.8 L2390.6 779.7 L2394.9 780.6 L2399.1 781.6 L2403.4 782.5 L2407.6 783.4 L2411.9 784.3 L2416.1 785.2 L2420.4 786.1 L2424.6 787.0" fill="none" stroke="#333333" stroke-width="4.3" stroke-linejoin="round" stroke-linecap="butt" clip-path="url(#cb)"/>
<path d="M1580.0 778.9 L1584.2 777.5 L1588.5 776.0 L1592.7 774.6 L1597.0 773.2 L1601.2 771.8 L1605.5 770.4 L1609.7 768.9 L1614.0 767.5 L1618.2 766.1 L1622.4 764.6 L1626.7 763.2 L1630.9 761.7 L1635.2 760.3 L1639.4 758.8 L1643.7 757.3 L1647.9 755.8 L1652.2 754.3 L1656.4 752.8 L1660.6 751.3 L1664.9 749.8 L1669.1 748.3 L1673.4 746.7 L1677.6 745.2 L1681.9 743.6 L1686.1 742.0 L1690.3 740.4 L1694.6 738.8 L1698.8 737.2 L1703.1 735.6 L1707.3 733.9 L1711.6 732.3 L1715.8 730.6 L1720.1 729.0 L1724.3 727.3 L1728.5 725.6 L1732.8 723.9 L1737.0 722.2 L1741.3 720.5 L1745.5 718.8 L1749.8 717.0 L1754.0 715.3 L1758.3 713.5 L1762.5 711.8 L1766.7 710.0 L1771.0 708.2 L1775.2 706.4 L1779.5 704.7 L1783.7 702.9 L1788.0 701.1 L1792.2 699.3 L1796.5 697.6 L1800.7 695.8 L1804.9 694.0 L1809.2 692.3 L1813.4 690.5 L1817.7 688.8 L1821.9 687.0 L1826.2 685.3 L1830.4 683.6 L1834.7 681.9 L1838.9 680.2 L1843.1 678.5 L1847.4 676.8 L1851.6 675.2 L1855.9 673.6 L1860.1 672.0 L1864.4 670.4 L1868.6 668.9 L1872.9 667.4 L1877.1 666.0 L1881.3 664.6 L1885.6 663.2 L1889.8 661.9 L1894.1 660.6 L1898.3 659.3 L1902.6 658.2 L1906.8 657.0 L1911.0 656.0 L1915.3 655.0 L1919.5 654.0 L1923.8 653.2 L1928.0 652.3 L1932.3 651.6 L1936.5 650.9 L1940.8 650.2 L1945.0 649.7 L1949.2 649.1 L1953.5 648.6 L1957.7 648.2 L1962.0 647.8 L1966.2 647.4 L1970.5 647.1 L1974.7 646.9 L1979.0 646.6 L1983.2 646.4 L1987.4 646.3 L1991.7 646.1 L1995.9 646.0 L2000.2 645.9 L2004.4 645.9 L2008.7 645.8 L2012.9 645.8 L2017.2 645.9 L2021.4 645.9 L2025.6 646.0 L2029.9 646.1 L2034.1 646.3 L2038.4 646.5 L2042.6 646.7 L2046.9 647.0 L2051.1 647.3 L2055.4 647.7 L2059.6 648.1 L2063.8 648.5 L2068.1 649.1 L2072.3 649.6 L2076.6 650.2 L2080.8 650.9 L2085.1 651.7 L2089.3 652.5 L2093.6 653.3 L2097.8 654.3 L2102.0 655.2 L2106.3 656.3 L2110.5 657.4 L2114.8 658.5 L2119.0 659.7 L2123.3 660.9 L2127.5 662.2 L2131.7 663.5 L2136.0 664.9 L2140.2 666.3 L2144.5 667.7 L2148.7 669.2 L2153.0 670.7 L2157.2 672.2 L2161.5 673.8 L2165.7 675.4 L2169.9 677.0 L2174.2 678.6 L2178.4 680.2 L2182.7 681.9 L2186.9 683.6 L2191.2 685.3 L2195.4 687.0 L2199.7 688.8 L2203.9 690.5 L2208.1 692.3 L2212.4 694.0 L2216.6 695.8 L2220.9 697.6 L2225.1 699.4 L2229.4 701.2 L2233.6 703.1 L2237.9 704.9 L2242.1 706.7 L2246.3 708.6 L2250.6 710.4 L2254.8 712.2 L2259.1 714.1 L2263.3 715.9 L2267.6 717.8 L2271.8 719.6 L2276.1 721.4 L2280.3 723.2 L2284.5 725.1 L2288.8 726.9 L2293.0 728.7 L2297.3 730.5 L2301.5 732.2 L2305.8 734.0 L2310.0 735.7 L2314.3 737.4 L2318.5 739.1 L2322.7 740.8 L2327.0 742.5 L2331.2 744.1 L2335.5 745.7 L2339.7 747.3 L2344.0 748.9 L2348.2 750.4 L2352.4 751.9 L2356.7 753.4 L2360.9 754.9 L2365.2 756.3 L2369.4 757.7 L2373.7 759.2 L2377.9 760.5 L2382.2 761.9 L2386.4 763.3 L2390.6 764.6 L2394.9 766.0 L2399.1 767.3 L2403.4 768.6 L2407.6 770.0 L2411.9 771.3 L2416.1 772.6 L2420.4 773.9 L2424.6 775.2" fill="none" stroke="#2e8b3a" stroke-width="4.3" stroke-linejoin="round" stroke-linecap="butt" clip-path="url(#cb)"/>
<path d="M1580.0 762.3 L1584.2 760.4 L1588.5 758.6 L1592.7 756.7 L1597.0 754.8 L1601.2 753.0 L1605.5 751.1 L1609.7 749.2 L1614.0 747.3 L1618.2 745.5 L1622.4 743.6 L1626.7 741.6 L1630.9 739.7 L1635.2 737.8 L1639.4 735.9 L1643.7 733.9 L1647.9 732.0 L1652.2 730.0 L1656.4 728.0 L1660.6 726.0 L1664.9 724.0 L1669.1 721.9 L1673.4 719.9 L1677.6 717.8 L1681.9 715.7 L1686.1 713.6 L1690.3 711.5 L1694.6 709.4 L1698.8 707.2 L1703.1 705.0 L1707.3 702.8 L1711.6 700.6 L1715.8 698.4 L1720.1 696.1 L1724.3 693.9 L1728.5 691.6 L1732.8 689.3 L1737.0 687.0 L1741.3 684.6 L1745.5 682.3 L1749.8 679.9 L1754.0 677.5 L1758.3 675.1 L1762.5 672.7 L1766.7 670.2 L1771.0 667.8 L1775.2 665.3 L1779.5 662.9 L1783.7 660.4 L1788.0 657.9 L1792.2 655.5 L1796.5 653.0 L1800.7 650.5 L1804.9 648.1 L1809.2 645.6 L1813.4 643.2 L1817.7 640.8 L1821.9 638.4 L1826.2 636.0 L1830.4 633.6 L1834.7 631.3 L1838.9 629.0 L1843.1 626.7 L1847.4 624.5 L1851.6 622.2 L1855.9 620.1 L1860.1 617.9 L1864.4 615.8 L1868.6 613.8 L1872.9 611.8 L1877.1 609.8 L1881.3 607.9 L1885.6 606.1 L1889.8 604.3 L1894.1 602.6 L1898.3 600.9 L1902.6 599.4 L1906.8 597.9 L1911.0 596.4 L1915.3 595.1 L1919.5 593.8 L1923.8 592.7 L1928.0 591.6 L1932.3 590.5 L1936.5 589.6 L1940.8 588.7 L1945.0 588.0 L1949.2 587.2 L1953.5 586.6 L1957.7 586.0 L1962.0 585.5 L1966.2 585.1 L1970.5 584.7 L1974.7 584.4 L1979.0 584.1 L1983.2 583.9 L1987.4 583.7 L1991.7 583.6 L1995.9 583.6 L2000.2 583.6 L2004.4 583.6 L2008.7 583.7 L2012.9 583.9 L2017.2 584.1 L2021.4 584.3 L2025.6 584.6 L2029.9 584.9 L2034.1 585.4 L2038.4 585.8 L2042.6 586.3 L2046.9 586.9 L2051.1 587.6 L2055.4 588.3 L2059.6 589.0 L2063.8 589.9 L2068.1 590.8 L2072.3 591.7 L2076.6 592.8 L2080.8 593.9 L2085.1 595.0 L2089.3 596.3 L2093.6 597.6 L2097.8 599.0 L2102.0 600.5 L2106.3 602.0 L2110.5 603.6 L2114.8 605.3 L2119.0 607.0 L2123.3 608.7 L2127.5 610.6 L2131.7 612.4 L2136.0 614.4 L2140.2 616.3 L2144.5 618.4 L2148.7 620.4 L2153.0 622.5 L2157.2 624.7 L2161.5 626.8 L2165.7 629.1 L2169.9 631.3 L2174.2 633.6 L2178.4 635.9 L2182.7 638.2 L2186.9 640.6 L2191.2 643.0 L2195.4 645.4 L2199.7 647.8 L2203.9 650.2 L2208.1 652.7 L2212.4 655.1 L2216.6 657.6 L2220.9 660.1 L2225.1 662.5 L2229.4 665.0 L2233.6 667.5 L2237.9 670.0 L2242.1 672.5 L2246.3 675.0 L2250.6 677.4 L2254.8 679.9 L2259.1 682.4 L2263.3 684.8 L2267.6 687.3 L2271.8 689.7 L2276.1 692.1 L2280.3 694.5 L2284.5 696.9 L2288.8 699.2 L2293.0 701.6 L2297.3 703.9 L2301.5 706.2 L2305.8 708.5 L2310.0 710.7 L2314.3 713.0 L2318.5 715.2 L2322.7 717.4 L2327.0 719.6 L2331.2 721.7 L2335.5 723.8 L2339.7 725.9 L2344.0 727.9 L2348.2 730.0 L2352.4 732.0 L2356.7 734.0 L2360.9 735.9 L2365.2 737.8 L2369.4 739.7 L2373.7 741.6 L2377.9 743.5 L2382.2 745.4 L2386.4 747.2 L2390.6 749.1 L2394.9 750.9 L2399.1 752.7 L2403.4 754.5 L2407.6 756.3 L2411.9 758.1 L2416.1 759.9 L2420.4 761.7 L2424.6 763.5" fill="none" stroke="#4f81bd" stroke-width="4.3" stroke-linejoin="round" stroke-linecap="butt" clip-path="url(#cb)"/>
<path d="M1580.0 754.0 L1584.2 751.9 L1588.5 749.9 L1592.7 747.8 L1597.0 745.7 L1601.2 743.6 L1605.5 741.5 L1609.7 739.4 L1614.0 737.3 L1618.2 735.2 L1622.4 733.0 L1626.7 730.9 L1630.9 728.7 L1635.2 726.5 L1639.4 724.3 L1643.7 722.0 L1647.9 719.8 L1652.2 717.5 L1656.4 715.1 L1660.6 712.8 L1664.9 710.4 L1669.1 708.0 L1673.4 705.5 L1677.6 703.1 L1681.9 700.5 L1686.1 698.0 L1690.3 695.4 L1694.6 692.8 L1698.8 690.2 L1703.1 687.5 L1707.3 684.9 L1711.6 682.2 L1715.8 679.4 L1720.1 676.7 L1724.3 674.0 L1728.5 671.2 L1732.8 668.4 L1737.0 665.6 L1741.3 662.7 L1745.5 659.9 L1749.8 657.1 L1754.0 654.2 L1758.3 651.3 L1762.5 648.4 L1766.7 645.5 L1771.0 642.6 L1775.2 639.7 L1779.5 636.8 L1783.7 633.8 L1788.0 630.9 L1792.2 627.9 L1796.5 624.9 L1800.7 622.0 L1804.9 619.0 L1809.2 615.9 L1813.4 612.9 L1817.7 609.9 L1821.9 606.8 L1826.2 603.7 L1830.4 600.6 L1834.7 597.5 L1838.9 594.4 L1843.1 591.3 L1847.4 588.2 L1851.6 585.1 L1855.9 582.0 L1860.1 578.9 L1864.4 575.9 L1868.6 572.8 L1872.9 569.9 L1877.1 567.0 L1881.3 564.1 L1885.6 561.3 L1889.8 558.6 L1894.1 555.9 L1898.3 553.3 L1902.6 550.9 L1906.8 548.5 L1911.0 546.2 L1915.3 544.1 L1919.5 542.0 L1923.8 540.1 L1928.0 538.3 L1932.3 536.6 L1936.5 535.1 L1940.8 533.6 L1945.0 532.3 L1949.2 531.1 L1953.5 530.0 L1957.7 529.0 L1962.0 528.1 L1966.2 527.3 L1970.5 526.7 L1974.7 526.1 L1979.0 525.6 L1983.2 525.2 L1987.4 525.0 L1991.7 524.8 L1995.9 524.7 L2000.2 524.7 L2004.4 524.8 L2008.7 524.9 L2012.9 525.2 L2017.2 525.5 L2021.4 526.0 L2025.6 526.5 L2029.9 527.1 L2034.1 527.9 L2038.4 528.7 L2042.6 529.6 L2046.9 530.6 L2051.1 531.7 L2055.4 533.0 L2059.6 534.3 L2063.8 535.7 L2068.1 537.2 L2072.3 538.9 L2076.6 540.6 L2080.8 542.5 L2085.1 544.4 L2089.3 546.5 L2093.6 548.7 L2097.8 550.9 L2102.0 553.3 L2106.3 555.8 L2110.5 558.3 L2114.8 560.9 L2119.0 563.6 L2123.3 566.4 L2127.5 569.3 L2131.7 572.1 L2136.0 575.1 L2140.2 578.1 L2144.5 581.1 L2148.7 584.2 L2153.0 587.3 L2157.2 590.4 L2161.5 593.6 L2165.7 596.8 L2169.9 599.9 L2174.2 603.1 L2178.4 606.3 L2182.7 609.5 L2186.9 612.7 L2191.2 615.9 L2195.4 619.1 L2199.7 622.2 L2203.9 625.4 L2208.1 628.6 L2212.4 631.8 L2216.6 634.9 L2220.9 638.1 L2225.1 641.3 L2229.4 644.4 L2233.6 647.6 L2237.9 650.7 L2242.1 653.8 L2246.3 656.9 L2250.6 660.0 L2254.8 663.1 L2259.1 666.2 L2263.3 669.2 L2267.6 672.2 L2271.8 675.2 L2276.1 678.2 L2280.3 681.2 L2284.5 684.1 L2288.8 687.0 L2293.0 689.9 L2297.3 692.7 L2301.5 695.5 L2305.8 698.3 L2310.0 701.0 L2314.3 703.7 L2318.5 706.3 L2322.7 708.9 L2327.0 711.5 L2331.2 714.0 L2335.5 716.4 L2339.7 718.8 L2344.0 721.1 L2348.2 723.4 L2352.4 725.6 L2356.7 727.8 L2360.9 729.9 L2365.2 732.0 L2369.4 734.1 L2373.7 736.1 L2377.9 738.1 L2382.2 740.1 L2386.4 742.0 L2390.6 743.9 L2394.9 745.8 L2399.1 747.7 L2403.4 749.5 L2407.6 751.4 L2411.9 753.2 L2416.1 755.0 L2420.4 756.9 L2424.6 758.7" fill="none" stroke="#f79646" stroke-width="4.3" stroke-linejoin="round" stroke-linecap="butt" clip-path="url(#cb)"/>
<path d="M1580.0 739.6 L1584.2 737.4 L1588.5 735.2 L1592.7 733.0 L1597.0 730.8 L1601.2 728.6 L1605.5 726.4 L1609.7 724.2 L1614.0 721.9 L1618.2 719.7 L1622.4 717.4 L1626.7 715.0 L1630.9 712.7 L1635.2 710.3 L1639.4 707.9 L1643.7 705.4 L1647.9 702.9 L1652.2 700.4 L1656.4 697.8 L1660.6 695.2 L1664.9 692.5 L1669.1 689.8 L1673.4 687.0 L1677.6 684.1 L1681.9 681.2 L1686.1 678.3 L1690.3 675.3 L1694.6 672.3 L1698.8 669.2 L1703.1 666.1 L1707.3 662.9 L1711.6 659.7 L1715.8 656.5 L1720.1 653.2 L1724.3 649.9 L1728.5 646.6 L1732.8 643.2 L1737.0 639.9 L1741.3 636.4 L1745.5 633.0 L1749.8 629.5 L1754.0 626.0 L1758.3 622.5 L1762.5 619.0 L1766.7 615.5 L1771.0 611.9 L1775.2 608.3 L1779.5 604.7 L1783.7 601.1 L1788.0 597.5 L1792.2 593.8 L1796.5 590.2 L1800.7 586.5 L1804.9 582.8 L1809.2 579.1 L1813.4 575.4 L1817.7 571.7 L1821.9 567.9 L1826.2 564.2 L1830.4 560.4 L1834.7 556.7 L1838.9 552.9 L1843.1 549.1 L1847.4 545.4 L1851.6 541.6 L1855.9 537.9 L1860.1 534.2 L1864.4 530.5 L1868.6 526.9 L1872.9 523.3 L1877.1 519.8 L1881.3 516.3 L1885.6 512.9 L1889.8 509.6 L1894.1 506.3 L1898.3 503.2 L1902.6 500.1 L1906.8 497.2 L1911.0 494.3 L1915.3 491.6 L1919.5 488.9 L1923.8 486.5 L1928.0 484.1 L1932.3 481.9 L1936.5 479.8 L1940.8 477.8 L1945.0 475.9 L1949.2 474.2 L1953.5 472.6 L1957.7 471.2 L1962.0 469.9 L1966.2 468.7 L1970.5 467.7 L1974.7 466.8 L1979.0 466.1 L1983.2 465.5 L1987.4 465.0 L1991.7 464.7 L1995.9 464.5 L2000.2 464.5 L2004.4 464.6 L2008.7 464.8 L2012.9 465.2 L2017.2 465.8 L2021.4 466.5 L2025.6 467.3 L2029.9 468.3 L2034.1 469.4 L2038.4 470.6 L2042.6 472.0 L2046.9 473.5 L2051.1 475.1 L2055.4 476.9 L2059.6 478.7 L2063.8 480.7 L2068.1 482.9 L2072.3 485.1 L2076.6 487.5 L2080.8 489.9 L2085.1 492.5 L2089.3 495.2 L2093.6 498.0 L2097.8 501.0 L2102.0 504.0 L2106.3 507.1 L2110.5 510.3 L2114.8 513.5 L2119.0 516.9 L2123.3 520.3 L2127.5 523.8 L2131.7 527.4 L2136.0 531.0 L2140.2 534.7 L2144.5 538.4 L2148.7 542.2 L2153.0 546.0 L2157.2 549.8 L2161.5 553.7 L2165.7 557.6 L2169.9 561.5 L2174.2 565.4 L2178.4 569.3 L2182.7 573.3 L2186.9 577.2 L2191.2 581.2 L2195.4 585.1 L2199.7 589.1 L2203.9 593.1 L2208.1 597.0 L2212.4 601.0 L2216.6 605.0 L2220.9 608.9 L2225.1 612.9 L2229.4 616.9 L2233.6 620.8 L2237.9 624.7 L2242.1 628.7 L2246.3 632.6 L2250.6 636.5 L2254.8 640.4 L2259.1 644.3 L2263.3 648.1 L2267.6 651.9 L2271.8 655.7 L2276.1 659.5 L2280.3 663.2 L2284.5 666.9 L2288.8 670.6 L2293.0 674.2 L2297.3 677.7 L2301.5 681.2 L2305.8 684.6 L2310.0 688.0 L2314.3 691.3 L2318.5 694.5 L2322.7 697.6 L2327.0 700.7 L2331.2 703.7 L2335.5 706.5 L2339.7 709.3 L2344.0 712.0 L2348.2 714.6 L2352.4 717.1 L2356.7 719.5 L2360.9 721.9 L2365.2 724.2 L2369.4 726.4 L2373.7 728.5 L2377.9 730.6 L2382.2 732.7 L2386.4 734.7 L2390.6 736.6 L2394.9 738.6 L2399.1 740.4 L2403.4 742.3 L2407.6 744.1 L2411.9 746.0 L2416.1 747.8 L2420.4 749.6 L2424.6 751.4" fill="none" stroke="#ff2d2d" stroke-width="4.3" stroke-linejoin="round" stroke-linecap="butt" clip-path="url(#cb)"/>
<g transform="translate(1454.48 123.9) scale(0.9350 1)"><text font-family="'Liberation Sans',sans-serif" font-weight="bold" font-size="47.9" fill="#000">0.114</text><rect x="40.9" y="-6.09" width="9.7" height="7.29" fill="#fff"/><rect x="58.22" y="-6.09" width="8.38" height="7.29" fill="#fff"/><rect x="67.54" y="-6.09" width="9.7" height="7.29" fill="#fff"/><rect x="84.86" y="-6.09" width="8.38" height="7.29" fill="#fff"/></g>
<g transform="translate(1455.98 265.9) scale(0.9350 1)"><text font-family="'Liberation Sans',sans-serif" font-weight="bold" font-size="47.9" fill="#000">0.112</text><rect x="40.9" y="-6.09" width="9.7" height="7.29" fill="#fff"/><rect x="58.22" y="-6.09" width="8.38" height="7.29" fill="#fff"/><rect x="67.54" y="-6.09" width="9.7" height="7.29" fill="#fff"/><rect x="84.86" y="-6.09" width="8.38" height="7.29" fill="#fff"/></g>
<g transform="translate(1455.98 407) scale(0.9350 1)"><text font-family="'Liberation Sans',sans-serif" font-weight="bold" font-size="47.9" fill="#000">0.110</text><rect x="40.9" y="-6.09" width="9.7" height="7.29" fill="#fff"/><rect x="58.22" y="-6.09" width="8.38" height="7.29" fill="#fff"/><rect x="67.54" y="-6.09" width="9.7" height="7.29" fill="#fff"/><rect x="84.86" y="-6.09" width="8.38" height="7.29" fill="#fff"/></g>
<g transform="translate(1455.53 547.9) scale(0.9350 1)"><text font-family="'Liberation Sans',sans-serif" font-weight="bold" font-size="47.9" fill="#000">0.108</text><rect x="40.9" y="-6.09" width="9.7" height="7.29" fill="#fff"/><rect x="58.22" y="-6.09" width="8.38" height="7.29" fill="#fff"/></g>
<g transform="translate(1455.83 688.4) scale(0.9350 1)"><text font-family="'Liberation Sans',sans-serif" font-weight="bold" font-size="47.9" fill="#000">0.106</text><rect x="40.9" y="-6.09" width="9.7" height="7.29" fill="#fff"/><rect x="58.22" y="-6.09" width="8.38" height="7.29" fill="#fff"/></g>
<g transform="translate(1454.48 829.4) scale(0.9350 1)"><text font-family="'Liberation Sans',sans-serif" font-weight="bold" font-size="47.9" fill="#000">0.104</text><rect x="40.9" y="-6.09" width="9.7" height="7.29" fill="#fff"/><rect x="58.22" y="-6.09" width="8.38" height="7.29" fill="#fff"/></g>
<g transform="translate(1623.22 867) scale(0.9500 1)"><text font-family="'Liberation Sans',sans-serif" font-weight="bold" font-size="47.9" fill="#000">0.51</text><rect x="67.54" y="-6.09" width="9.7" height="7.29" fill="#fff"/><rect x="84.86" y="-6.09" width="8.38" height="7.29" fill="#fff"/></g>
<g transform="translate(1790.92 867) scale(0.9500 1)"><text font-family="'Liberation Sans',sans-serif" font-weight="bold" font-size="47.9" fill="#000">0.52</text></g>
<g transform="translate(1958.62 867) scale(0.9500 1)"><text font-family="'Liberation Sans',sans-serif" font-weight="bold" font-size="47.9" fill="#000">0.53</text></g>
<g transform="translate(2126.32 867) scale(0.9500 1)"><text font-family="'Liberation Sans',sans-serif" font-weight="bold" font-size="47.9" fill="#000">0.54</text></g>
<g transform="translate(2294.02 867) scale(0.9500 1)"><text font-family="'Liberation Sans',sans-serif" font-weight="bold" font-size="47.9" fill="#000">0.55</text></g>
<g transform="translate(1791.56 955.2) scale(0.9557 1)"><text font-family="'Liberation Sans',sans-serif" font-weight="normal" font-size="60.8" fill="#1a1a1a">Frequency(THz)</text></g>
<text transform="translate(1411 582.85) rotate(-90) scale(0.9773 1)" font-family="'Liberation Sans',sans-serif" font-weight="normal" font-size="60.8" fill="#1a1a1a">Reflection</text>
<text transform="translate(1280.04 77.3) scale(1.0281 1)" font-family="'Liberation Serif',serif" font-weight="bold" font-size="84.37" fill="#000">(b)</text>
<defs><linearGradient id="gf" x1="0" y1="0" x2="0.3" y2="1"><stop offset="0" stop-color="#5b5b5c"/><stop offset="1" stop-color="#4f4f50"/></linearGradient><linearGradient id="gs" x1="0" y1="0" x2="0" y2="1"><stop offset="0" stop-color="#2f2f2f"/><stop offset="1" stop-color="#2a2a2a"/></linearGradient></defs>
<polygon points="1613.4,253.7 1815.5,284.9 1815.5,403.9 1613.4,374.2" fill="url(#gf)"/>
<polygon points="1815.0,284.9 1890.7,238.6 1890.7,355.6 1815.0,403.9" fill="url(#gs)"/>
<polygon points="1613.4,237.7 1815.5,268.9 1815.5,285.9 1613.4,254.7" fill="#3d6520" stroke="#3d6520" stroke-width="1" stroke-linejoin="round"/>
<polygon points="1815.5,268.9 1890.7,222.6 1890.7,239.6 1815.5,285.9" fill="#2a4716" stroke="#2a4716" stroke-width="1" stroke-linejoin="round"/>
<polygon points="1613.4,237.7 1815.5,268.9 1890.7,222.6 1690.6,187.4" fill="#548235" stroke="#548235" stroke-width="1" stroke-linejoin="round"/>
<line x1="1746.5" y1="144" x2="1746.5" y2="200" stroke="#d4601f" stroke-width="4.8" stroke-linecap="butt"/>
<polygon points="1732.5,190.5 1746.5,197.0 1761.0,190.5 1746.5,219.5" fill="#d4601f"/>
<g transform="translate(1773.34 188) scale(1.0150 1)"><text font-family="'Liberation Serif',serif" font-weight="normal" font-size="56.5" fill="#ed7d31">THz</text></g>
<line x1="1856" y1="228.3" x2="1928" y2="205.5" stroke="#000" stroke-width="5" stroke-linecap="round"/>
<polygon points="1940.5,201.5 1921.0,198.0 1927.0,205.8 1926.5,215.0" fill="#0a0a0a"/>
<g transform="translate(1917.3 186.6) scale(1.0586 1)"><text font-family="'Liberation Serif',serif" font-weight="bold" font-size="47" fill="#0a0a0a">lactose</text></g>
<line x1="2197" y1="178.8" x2="2271" y2="178.8" stroke="#333333" stroke-width="4.5" stroke-linecap="butt"/>
<g transform="translate(2276.15 189.7) scale(0.9680 1)"><text font-family="'Liberation Sans',sans-serif" font-weight="bold" font-size="47.9" fill="#000">1µm</text><rect x="0.96" y="-6.09" width="9.7" height="7.29" fill="#fff"/><rect x="18.27" y="-6.09" width="8.38" height="7.29" fill="#fff"/></g>
<line x1="2197" y1="224.4" x2="2271" y2="224.4" stroke="#2e8b3a" stroke-width="4.5" stroke-linecap="butt"/>
<g transform="translate(2277.15 234.1) scale(0.9680 1)"><text font-family="'Liberation Sans',sans-serif" font-weight="bold" font-size="47.9" fill="#000">1.5µm</text><rect x="0.96" y="-6.09" width="9.7" height="7.29" fill="#fff"/><rect x="18.27" y="-6.09" width="8.38" height="7.29" fill="#fff"/></g>
<line x1="2197" y1="268.8" x2="2271" y2="268.8" stroke="#4f81bd" stroke-width="4.5" stroke-linecap="butt"/>
<g transform="translate(2277.45 279.1) scale(0.9680 1)"><text font-family="'Liberation Sans',sans-serif" font-weight="bold" font-size="47.9" fill="#000">2µm</text></g>
<line x1="2197" y1="315.3" x2="2271" y2="315.3" stroke="#f79646" stroke-width="4.5" stroke-linecap="butt"/>
<g transform="translate(2277.45 325.7) scale(0.9680 1)"><text font-family="'Liberation Sans',sans-serif" font-weight="bold" font-size="47.9" fill="#000">2.5µm</text></g>
<line x1="2198" y1="367.9" x2="2272" y2="367.9" stroke="#ff2d2d" stroke-width="4.5" stroke-linecap="butt"/>
<g transform="translate(2278.92 378) scale(0.9680 1)"><text font-family="'Liberation Sans',sans-serif" font-weight="bold" font-size="47.9" fill="#000">3µm</text></g>
<clipPath id="cc"><rect x="289.9" y="1046.9" width="863.7" height="700.3"/></clipPath>
<rect x="292.2" y="1046.9" width="859.1" height="700.3" fill="none" stroke="#262626" stroke-width="4.6" stroke-linejoin="round"/>
<line x1="378.3" y1="1046.9" x2="378.3" y2="1059.9" stroke="#262626" stroke-width="4" stroke-linecap="butt"/>
<line x1="549.75" y1="1046.9" x2="549.75" y2="1059.9" stroke="#262626" stroke-width="4" stroke-linecap="butt"/>
<line x1="721.2" y1="1046.9" x2="721.2" y2="1059.9" stroke="#262626" stroke-width="4" stroke-linecap="butt"/>
<line x1="892.65" y1="1046.9" x2="892.65" y2="1059.9" stroke="#262626" stroke-width="4" stroke-linecap="butt"/>
<line x1="1064.1" y1="1046.9" x2="1064.1" y2="1059.9" stroke="#262626" stroke-width="4" stroke-linecap="butt"/>
<line x1="464.02" y1="1046.9" x2="464.02" y2="1054.1" stroke="#262626" stroke-width="4" stroke-linecap="butt"/>
<line x1="635.47" y1="1046.9" x2="635.47" y2="1054.1" stroke="#262626" stroke-width="4" stroke-linecap="butt"/>
<line x1="806.92" y1="1046.9" x2="806.92" y2="1054.1" stroke="#262626" stroke-width="4" stroke-linecap="butt"/>
<line x1="978.38" y1="1046.9" x2="978.38" y2="1054.1" stroke="#262626" stroke-width="4" stroke-linecap="butt"/>
<line x1="378.3" y1="1747.2" x2="378.3" y2="1734.2" stroke="#262626" stroke-width="4" stroke-linecap="butt"/>
<line x1="549.75" y1="1747.2" x2="549.75" y2="1734.2" stroke="#262626" stroke-width="4" stroke-linecap="butt"/>
<line x1="721.2" y1="1747.2" x2="721.2" y2="1734.2" stroke="#262626" stroke-width="4" stroke-linecap="butt"/>
<line x1="892.65" y1="1747.2" x2="892.65" y2="1734.2" stroke="#262626" stroke-width="4" stroke-linecap="butt"/>
<line x1="1064.1" y1="1747.2" x2="1064.1" y2="1734.2" stroke="#262626" stroke-width="4" stroke-linecap="butt"/>
<line x1="464.02" y1="1747.2" x2="464.02" y2="1740" stroke="#262626" stroke-width="4" stroke-linecap="butt"/>
<line x1="635.47" y1="1747.2" x2="635.47" y2="1740" stroke="#262626" stroke-width="4" stroke-linecap="butt"/>
<line x1="806.92" y1="1747.2" x2="806.92" y2="1740" stroke="#262626" stroke-width="4" stroke-linecap="butt"/>
<line x1="978.38" y1="1747.2" x2="978.38" y2="1740" stroke="#262626" stroke-width="4" stroke-linecap="butt"/>
<line x1="292.2" y1="1186.96" x2="305.2" y2="1186.96" stroke="#262626" stroke-width="4" stroke-linecap="butt"/>
<line x1="292.2" y1="1327.02" x2="305.2" y2="1327.02" stroke="#262626" stroke-width="4" stroke-linecap="butt"/>
<line x1="292.2" y1="1467.08" x2="305.2" y2="1467.08" stroke="#262626" stroke-width="4" stroke-linecap="butt"/>
<line x1="292.2" y1="1607.14" x2="305.2" y2="1607.14" stroke="#262626" stroke-width="4" stroke-linecap="butt"/>
<line x1="292.2" y1="1116.93" x2="299.4" y2="1116.93" stroke="#262626" stroke-width="4" stroke-linecap="butt"/>
<line x1="292.2" y1="1256.99" x2="299.4" y2="1256.99" stroke="#262626" stroke-width="4" stroke-linecap="butt"/>
<line x1="292.2" y1="1397.05" x2="299.4" y2="1397.05" stroke="#262626" stroke-width="4" stroke-linecap="butt"/>
<line x1="292.2" y1="1537.11" x2="299.4" y2="1537.11" stroke="#262626" stroke-width="4" stroke-linecap="butt"/>
<line x1="292.2" y1="1677.17" x2="299.4" y2="1677.17" stroke="#262626" stroke-width="4" stroke-linecap="butt"/>
<line x1="1151.3" y1="1186.96" x2="1138.3" y2="1186.96" stroke="#262626" stroke-width="4" stroke-linecap="butt"/>
<line x1="1151.3" y1="1327.02" x2="1138.3" y2="1327.02" stroke="#262626" stroke-width="4" stroke-linecap="butt"/>
<line x1="1151.3" y1="1467.08" x2="1138.3" y2="1467.08" stroke="#262626" stroke-width="4" stroke-linecap="butt"/>
<line x1="1151.3" y1="1607.14" x2="1138.3" y2="1607.14" stroke="#262626" stroke-width="4" stroke-linecap="butt"/>
<line x1="1151.3" y1="1116.93" x2="1144.1" y2="1116.93" stroke="#262626" stroke-width="4" stroke-linecap="butt"/>
<line x1="1151.3" y1="1256.99" x2="1144.1" y2="1256.99" stroke="#262626" stroke-width="4" stroke-linecap="butt"/>
<line x1="1151.3" y1="1397.05" x2="1144.1" y2="1397.05" stroke="#262626" stroke-width="4" stroke-linecap="butt"/>
<line x1="1151.3" y1="1537.11" x2="1144.1" y2="1537.11" stroke="#262626" stroke-width="4" stroke-linecap="butt"/>
<line x1="1151.3" y1="1677.17" x2="1144.1" y2="1677.17" stroke="#262626" stroke-width="4" stroke-linecap="butt"/>
<path d="M289.9 1149.7 L294.2 1150.6 L298.6 1151.6 L302.9 1152.5 L307.3 1153.4 L311.6 1154.4 L315.9 1155.3 L320.3 1156.2 L324.6 1157.1 L329.0 1158.0 L333.3 1158.9 L337.6 1159.8 L342.0 1160.7 L346.3 1161.6 L350.7 1162.5 L355.0 1163.3 L359.3 1164.2 L363.7 1165.0 L368.0 1165.8 L372.4 1166.6 L376.7 1167.4 L381.0 1168.2 L385.4 1169.0 L389.7 1169.7 L394.1 1170.4 L398.4 1171.2 L402.7 1171.9 L407.1 1172.5 L411.4 1173.2 L415.8 1173.9 L420.1 1174.5 L424.4 1175.1 L428.8 1175.8 L433.1 1176.4 L437.5 1176.9 L441.8 1177.5 L446.1 1178.1 L450.5 1178.6 L454.8 1179.1 L459.2 1179.6 L463.5 1180.1 L467.8 1180.6 L472.2 1181.1 L476.5 1181.6 L480.9 1182.0 L485.2 1182.4 L489.5 1182.8 L493.9 1183.2 L498.2 1183.6 L502.6 1184.0 L506.9 1184.4 L511.3 1184.7 L515.6 1185.1 L519.9 1185.4 L524.3 1185.7 L528.6 1186.0 L533.0 1186.3 L537.3 1186.6 L541.6 1186.9 L546.0 1187.2 L550.3 1187.4 L554.7 1187.7 L559.0 1187.9 L563.3 1188.2 L567.7 1188.4 L572.0 1188.6 L576.4 1188.8 L580.7 1189.0 L585.0 1189.2 L589.4 1189.3 L593.7 1189.5 L598.1 1189.7 L602.4 1189.8 L606.7 1189.9 L611.1 1190.0 L615.4 1190.1 L619.8 1190.2 L624.1 1190.3 L628.4 1190.4 L632.8 1190.5 L637.1 1190.5 L641.5 1190.6 L645.8 1190.6 L650.1 1190.6 L654.5 1190.6 L658.8 1190.6 L663.2 1190.6 L667.5 1190.5 L671.8 1190.5 L676.2 1190.4 L680.5 1190.3 L684.9 1190.3 L689.2 1190.1 L693.5 1190.0 L697.9 1189.9 L702.2 1189.7 L706.6 1189.6 L710.9 1189.4 L715.2 1189.2 L719.6 1189.0 L723.9 1188.8 L728.3 1188.5 L732.6 1188.2 L736.9 1188.0 L741.3 1187.7 L745.6 1187.4 L750.0 1187.1 L754.3 1186.7 L758.6 1186.4 L763.0 1186.0 L767.3 1185.7 L771.7 1185.3 L776.0 1184.9 L780.3 1184.5 L784.7 1184.1 L789.0 1183.7 L793.4 1183.3 L797.7 1182.8 L802.0 1182.4 L806.4 1182.0 L810.7 1181.5 L815.1 1181.1 L819.4 1180.6 L823.7 1180.1 L828.1 1179.7 L832.4 1179.2 L836.8 1178.7 L841.1 1178.2 L845.4 1177.7 L849.8 1177.2 L854.1 1176.7 L858.5 1176.2 L862.8 1175.7 L867.1 1175.1 L871.5 1174.6 L875.8 1174.0 L880.2 1173.5 L884.5 1172.9 L888.8 1172.3 L893.2 1171.7 L897.5 1171.1 L901.9 1170.5 L906.2 1169.9 L910.5 1169.2 L914.9 1168.6 L919.2 1168.0 L923.6 1167.3 L927.9 1166.6 L932.2 1166.0 L936.6 1165.3 L940.9 1164.6 L945.3 1163.9 L949.6 1163.2 L954.0 1162.5 L958.3 1161.8 L962.6 1161.1 L967.0 1160.4 L971.3 1159.7 L975.7 1159.0 L980.0 1158.3 L984.3 1157.6 L988.7 1156.9 L993.0 1156.2 L997.4 1155.5 L1001.7 1154.8 L1006.0 1154.1 L1010.4 1153.4 L1014.7 1152.7 L1019.1 1152.0 L1023.4 1151.3 L1027.7 1150.6 L1032.1 1149.9 L1036.4 1149.3 L1040.8 1148.6 L1045.1 1147.9 L1049.4 1147.2 L1053.8 1146.5 L1058.1 1145.8 L1062.5 1145.2 L1066.8 1144.5 L1071.1 1143.8 L1075.5 1143.1 L1079.8 1142.5 L1084.2 1141.8 L1088.5 1141.1 L1092.8 1140.5 L1097.2 1139.8 L1101.5 1139.2 L1105.9 1138.5 L1110.2 1137.9 L1114.5 1137.2 L1118.9 1136.5 L1123.2 1135.9 L1127.6 1135.2 L1131.9 1134.6 L1136.2 1133.9 L1140.6 1133.3 L1144.9 1132.7 L1149.3 1132.0 L1153.6 1131.4" fill="none" stroke="#333333" stroke-width="4.3" stroke-linejoin="round" stroke-linecap="butt" clip-path="url(#cc)"/>
<path d="M289.9 1173.5 L294.2 1174.9 L298.6 1176.3 L302.9 1177.7 L307.3 1179.1 L311.6 1180.5 L315.9 1181.9 L320.3 1183.2 L324.6 1184.6 L329.0 1186.0 L333.3 1187.3 L337.6 1188.7 L342.0 1190.0 L346.3 1191.3 L350.7 1192.7 L355.0 1194.0 L359.3 1195.2 L363.7 1196.5 L368.0 1197.7 L372.4 1199.0 L376.7 1200.2 L381.0 1201.3 L385.4 1202.5 L389.7 1203.6 L394.1 1204.8 L398.4 1205.8 L402.7 1206.9 L407.1 1208.0 L411.4 1209.0 L415.8 1210.0 L420.1 1211.0 L424.4 1212.0 L428.8 1212.9 L433.1 1213.8 L437.5 1214.8 L441.8 1215.6 L446.1 1216.5 L450.5 1217.4 L454.8 1218.2 L459.2 1219.0 L463.5 1219.8 L467.8 1220.6 L472.2 1221.3 L476.5 1222.1 L480.9 1222.8 L485.2 1223.5 L489.5 1224.2 L493.9 1224.9 L498.2 1225.5 L502.6 1226.1 L506.9 1226.7 L511.3 1227.3 L515.6 1227.9 L519.9 1228.5 L524.3 1229.0 L528.6 1229.6 L533.0 1230.1 L537.3 1230.6 L541.6 1231.0 L546.0 1231.5 L550.3 1232.0 L554.7 1232.4 L559.0 1232.8 L563.3 1233.2 L567.7 1233.6 L572.0 1233.9 L576.4 1234.3 L580.7 1234.6 L585.0 1234.9 L589.4 1235.2 L593.7 1235.5 L598.1 1235.8 L602.4 1236.0 L606.7 1236.3 L611.1 1236.5 L615.4 1236.7 L619.8 1236.9 L624.1 1237.0 L628.4 1237.2 L632.8 1237.3 L637.1 1237.4 L641.5 1237.5 L645.8 1237.6 L650.1 1237.7 L654.5 1237.7 L658.8 1237.8 L663.2 1237.8 L667.5 1237.8 L671.8 1237.8 L676.2 1237.7 L680.5 1237.7 L684.9 1237.6 L689.2 1237.5 L693.5 1237.4 L697.9 1237.2 L702.2 1237.1 L706.6 1236.9 L710.9 1236.7 L715.2 1236.4 L719.6 1236.2 L723.9 1235.9 L728.3 1235.6 L732.6 1235.3 L736.9 1235.0 L741.3 1234.6 L745.6 1234.3 L750.0 1233.9 L754.3 1233.4 L758.6 1233.0 L763.0 1232.5 L767.3 1232.0 L771.7 1231.5 L776.0 1231.0 L780.3 1230.4 L784.7 1229.9 L789.0 1229.3 L793.4 1228.7 L797.7 1228.0 L802.0 1227.4 L806.4 1226.7 L810.7 1226.0 L815.1 1225.3 L819.4 1224.5 L823.7 1223.8 L828.1 1223.0 L832.4 1222.2 L836.8 1221.4 L841.1 1220.5 L845.4 1219.7 L849.8 1218.8 L854.1 1218.0 L858.5 1217.1 L862.8 1216.2 L867.1 1215.3 L871.5 1214.4 L875.8 1213.5 L880.2 1212.5 L884.5 1211.6 L888.8 1210.6 L893.2 1209.7 L897.5 1208.7 L901.9 1207.8 L906.2 1206.8 L910.5 1205.8 L914.9 1204.8 L919.2 1203.8 L923.6 1202.9 L927.9 1201.9 L932.2 1200.9 L936.6 1199.8 L940.9 1198.8 L945.3 1197.8 L949.6 1196.8 L954.0 1195.7 L958.3 1194.7 L962.6 1193.7 L967.0 1192.6 L971.3 1191.5 L975.7 1190.5 L980.0 1189.4 L984.3 1188.3 L988.7 1187.2 L993.0 1186.1 L997.4 1185.0 L1001.7 1184.0 L1006.0 1182.8 L1010.4 1181.7 L1014.7 1180.6 L1019.1 1179.5 L1023.4 1178.4 L1027.7 1177.3 L1032.1 1176.2 L1036.4 1175.1 L1040.8 1174.0 L1045.1 1172.9 L1049.4 1171.8 L1053.8 1170.8 L1058.1 1169.7 L1062.5 1168.6 L1066.8 1167.5 L1071.1 1166.5 L1075.5 1165.4 L1079.8 1164.4 L1084.2 1163.3 L1088.5 1162.3 L1092.8 1161.3 L1097.2 1160.3 L1101.5 1159.3 L1105.9 1158.2 L1110.2 1157.2 L1114.5 1156.2 L1118.9 1155.2 L1123.2 1154.2 L1127.6 1153.2 L1131.9 1152.2 L1136.2 1151.2 L1140.6 1150.2 L1144.9 1149.3 L1149.3 1148.3 L1153.6 1147.3" fill="none" stroke="#2e8b3a" stroke-width="4.3" stroke-linejoin="round" stroke-linecap="butt" clip-path="url(#cc)"/>
<path d="M289.9 1197.8 L294.2 1199.5 L298.6 1201.1 L302.9 1202.8 L307.3 1204.5 L311.6 1206.1 L315.9 1207.8 L320.3 1209.4 L324.6 1211.1 L329.0 1212.7 L333.3 1214.3 L337.6 1216.0 L342.0 1217.6 L346.3 1219.2 L350.7 1220.8 L355.0 1222.4 L359.3 1224.0 L363.7 1225.5 L368.0 1227.1 L372.4 1228.6 L376.7 1230.1 L381.0 1231.7 L385.4 1233.1 L389.7 1234.6 L394.1 1236.1 L398.4 1237.5 L402.7 1239.0 L407.1 1240.4 L411.4 1241.8 L415.8 1243.1 L420.1 1244.5 L424.4 1245.8 L428.8 1247.2 L433.1 1248.5 L437.5 1249.7 L441.8 1251.0 L446.1 1252.2 L450.5 1253.4 L454.8 1254.6 L459.2 1255.8 L463.5 1257.0 L467.8 1258.1 L472.2 1259.2 L476.5 1260.3 L480.9 1261.3 L485.2 1262.4 L489.5 1263.4 L493.9 1264.4 L498.2 1265.3 L502.6 1266.3 L506.9 1267.2 L511.3 1268.1 L515.6 1269.0 L519.9 1269.8 L524.3 1270.7 L528.6 1271.5 L533.0 1272.3 L537.3 1273.0 L541.6 1273.8 L546.0 1274.5 L550.3 1275.2 L554.7 1275.9 L559.0 1276.5 L563.3 1277.1 L567.7 1277.8 L572.0 1278.3 L576.4 1278.9 L580.7 1279.4 L585.0 1279.9 L589.4 1280.4 L593.7 1280.9 L598.1 1281.3 L602.4 1281.7 L606.7 1282.1 L611.1 1282.5 L615.4 1282.8 L619.8 1283.1 L624.1 1283.4 L628.4 1283.7 L632.8 1283.9 L637.1 1284.1 L641.5 1284.2 L645.8 1284.4 L650.1 1284.5 L654.5 1284.6 L658.8 1284.6 L663.2 1284.7 L667.5 1284.6 L671.8 1284.6 L676.2 1284.6 L680.5 1284.5 L684.9 1284.3 L689.2 1284.2 L693.5 1284.0 L697.9 1283.8 L702.2 1283.5 L706.6 1283.3 L710.9 1283.0 L715.2 1282.6 L719.6 1282.2 L723.9 1281.8 L728.3 1281.4 L732.6 1280.9 L736.9 1280.4 L741.3 1279.9 L745.6 1279.4 L750.0 1278.8 L754.3 1278.2 L758.6 1277.5 L763.0 1276.9 L767.3 1276.2 L771.7 1275.4 L776.0 1274.7 L780.3 1273.9 L784.7 1273.1 L789.0 1272.3 L793.4 1271.4 L797.7 1270.5 L802.0 1269.6 L806.4 1268.7 L810.7 1267.8 L815.1 1266.8 L819.4 1265.8 L823.7 1264.8 L828.1 1263.8 L832.4 1262.7 L836.8 1261.6 L841.1 1260.5 L845.4 1259.4 L849.8 1258.3 L854.1 1257.2 L858.5 1256.0 L862.8 1254.8 L867.1 1253.6 L871.5 1252.4 L875.8 1251.2 L880.2 1249.9 L884.5 1248.7 L888.8 1247.4 L893.2 1246.1 L897.5 1244.8 L901.9 1243.5 L906.2 1242.2 L910.5 1240.9 L914.9 1239.6 L919.2 1238.2 L923.6 1236.8 L927.9 1235.5 L932.2 1234.1 L936.6 1232.7 L940.9 1231.3 L945.3 1229.9 L949.6 1228.4 L954.0 1227.0 L958.3 1225.5 L962.6 1224.1 L967.0 1222.6 L971.3 1221.1 L975.7 1219.6 L980.0 1218.1 L984.3 1216.6 L988.7 1215.1 L993.0 1213.6 L997.4 1212.0 L1001.7 1210.5 L1006.0 1209.0 L1010.4 1207.4 L1014.7 1205.9 L1019.1 1204.3 L1023.4 1202.8 L1027.7 1201.3 L1032.1 1199.7 L1036.4 1198.2 L1040.8 1196.7 L1045.1 1195.1 L1049.4 1193.6 L1053.8 1192.1 L1058.1 1190.6 L1062.5 1189.2 L1066.8 1187.7 L1071.1 1186.2 L1075.5 1184.8 L1079.8 1183.4 L1084.2 1182.0 L1088.5 1180.6 L1092.8 1179.2 L1097.2 1177.8 L1101.5 1176.4 L1105.9 1175.0 L1110.2 1173.7 L1114.5 1172.3 L1118.9 1171.0 L1123.2 1169.6 L1127.6 1168.3 L1131.9 1166.9 L1136.2 1165.6 L1140.6 1164.3 L1144.9 1163.0 L1149.3 1161.6 L1153.6 1160.3" fill="none" stroke="#4f81bd" stroke-width="4.3" stroke-linejoin="round" stroke-linecap="butt" clip-path="url(#cc)"/>
<path d="M289.9 1223.1 L294.2 1225.2 L298.6 1227.2 L302.9 1229.3 L307.3 1231.4 L311.6 1233.4 L315.9 1235.5 L320.3 1237.5 L324.6 1239.6 L329.0 1241.6 L333.3 1243.7 L337.6 1245.7 L342.0 1247.7 L346.3 1249.7 L350.7 1251.7 L355.0 1253.7 L359.3 1255.7 L363.7 1257.7 L368.0 1259.7 L372.4 1261.6 L376.7 1263.6 L381.0 1265.5 L385.4 1267.4 L389.7 1269.3 L394.1 1271.2 L398.4 1273.1 L402.7 1275.0 L407.1 1276.8 L411.4 1278.6 L415.8 1280.4 L420.1 1282.1 L424.4 1283.8 L428.8 1285.5 L433.1 1287.2 L437.5 1288.8 L441.8 1290.4 L446.1 1292.0 L450.5 1293.5 L454.8 1295.0 L459.2 1296.4 L463.5 1297.8 L467.8 1299.2 L472.2 1300.5 L476.5 1301.8 L480.9 1303.0 L485.2 1304.2 L489.5 1305.4 L493.9 1306.5 L498.2 1307.6 L502.6 1308.6 L506.9 1309.7 L511.3 1310.7 L515.6 1311.6 L519.9 1312.6 L524.3 1313.5 L528.6 1314.4 L533.0 1315.2 L537.3 1316.1 L541.6 1316.9 L546.0 1317.7 L550.3 1318.5 L554.7 1319.3 L559.0 1320.0 L563.3 1320.8 L567.7 1321.5 L572.0 1322.2 L576.4 1322.8 L580.7 1323.5 L585.0 1324.1 L589.4 1324.7 L593.7 1325.2 L598.1 1325.8 L602.4 1326.3 L606.7 1326.7 L611.1 1327.1 L615.4 1327.5 L619.8 1327.8 L624.1 1328.1 L628.4 1328.4 L632.8 1328.6 L637.1 1328.8 L641.5 1328.9 L645.8 1328.9 L650.1 1328.9 L654.5 1328.9 L658.8 1328.8 L663.2 1328.7 L667.5 1328.6 L671.8 1328.4 L676.2 1328.2 L680.5 1327.9 L684.9 1327.6 L689.2 1327.2 L693.5 1326.9 L697.9 1326.4 L702.2 1326.0 L706.6 1325.5 L710.9 1325.0 L715.2 1324.5 L719.6 1323.9 L723.9 1323.3 L728.3 1322.7 L732.6 1322.1 L736.9 1321.4 L741.3 1320.7 L745.6 1320.0 L750.0 1319.2 L754.3 1318.4 L758.6 1317.6 L763.0 1316.8 L767.3 1315.9 L771.7 1315.0 L776.0 1314.0 L780.3 1313.1 L784.7 1312.1 L789.0 1311.0 L793.4 1310.0 L797.7 1308.9 L802.0 1307.7 L806.4 1306.5 L810.7 1305.3 L815.1 1304.1 L819.4 1302.8 L823.7 1301.5 L828.1 1300.2 L832.4 1298.8 L836.8 1297.5 L841.1 1296.0 L845.4 1294.6 L849.8 1293.1 L854.1 1291.6 L858.5 1290.1 L862.8 1288.6 L867.1 1287.0 L871.5 1285.4 L875.8 1283.9 L880.2 1282.2 L884.5 1280.6 L888.8 1279.0 L893.2 1277.3 L897.5 1275.6 L901.9 1273.9 L906.2 1272.2 L910.5 1270.5 L914.9 1268.8 L919.2 1267.0 L923.6 1265.3 L927.9 1263.5 L932.2 1261.8 L936.6 1260.0 L940.9 1258.2 L945.3 1256.4 L949.6 1254.7 L954.0 1252.9 L958.3 1251.1 L962.6 1249.3 L967.0 1247.5 L971.3 1245.6 L975.7 1243.8 L980.0 1242.0 L984.3 1240.2 L988.7 1238.4 L993.0 1236.6 L997.4 1234.8 L1001.7 1233.0 L1006.0 1231.2 L1010.4 1229.4 L1014.7 1227.6 L1019.1 1225.8 L1023.4 1224.0 L1027.7 1222.3 L1032.1 1220.5 L1036.4 1218.7 L1040.8 1217.0 L1045.1 1215.3 L1049.4 1213.5 L1053.8 1211.8 L1058.1 1210.1 L1062.5 1208.4 L1066.8 1206.8 L1071.1 1205.1 L1075.5 1203.5 L1079.8 1201.8 L1084.2 1200.2 L1088.5 1198.6 L1092.8 1197.0 L1097.2 1195.4 L1101.5 1193.8 L1105.9 1192.3 L1110.2 1190.7 L1114.5 1189.1 L1118.9 1187.6 L1123.2 1186.0 L1127.6 1184.5 L1131.9 1182.9 L1136.2 1181.4 L1140.6 1179.9 L1144.9 1178.3 L1149.3 1176.8 L1153.6 1175.3" fill="none" stroke="#f79646" stroke-width="4.3" stroke-linejoin="round" stroke-linecap="butt" clip-path="url(#cc)"/>
<path d="M289.9 1250.9 L294.2 1253.5 L298.6 1256.1 L302.9 1258.7 L307.3 1261.3 L311.6 1263.8 L315.9 1266.4 L320.3 1269.0 L324.6 1271.5 L329.0 1274.0 L333.3 1276.6 L337.6 1279.1 L342.0 1281.6 L346.3 1284.0 L350.7 1286.5 L355.0 1288.9 L359.3 1291.4 L363.7 1293.7 L368.0 1296.1 L372.4 1298.4 L376.7 1300.8 L381.0 1303.0 L385.4 1305.3 L389.7 1307.5 L394.1 1309.7 L398.4 1311.8 L402.7 1314.0 L407.1 1316.0 L411.4 1318.1 L415.8 1320.1 L420.1 1322.1 L424.4 1324.0 L428.8 1326.0 L433.1 1327.8 L437.5 1329.7 L441.8 1331.4 L446.1 1333.2 L450.5 1334.9 L454.8 1336.6 L459.2 1338.2 L463.5 1339.8 L467.8 1341.4 L472.2 1342.9 L476.5 1344.3 L480.9 1345.8 L485.2 1347.2 L489.5 1348.5 L493.9 1349.8 L498.2 1351.1 L502.6 1352.4 L506.9 1353.6 L511.3 1354.8 L515.6 1355.9 L519.9 1357.0 L524.3 1358.1 L528.6 1359.2 L533.0 1360.3 L537.3 1361.3 L541.6 1362.3 L546.0 1363.3 L550.3 1364.2 L554.7 1365.2 L559.0 1366.1 L563.3 1367.0 L567.7 1367.8 L572.0 1368.7 L576.4 1369.5 L580.7 1370.2 L585.0 1370.9 L589.4 1371.6 L593.7 1372.3 L598.1 1372.9 L602.4 1373.5 L606.7 1374.0 L611.1 1374.5 L615.4 1374.9 L619.8 1375.3 L624.1 1375.6 L628.4 1375.8 L632.8 1376.0 L637.1 1376.1 L641.5 1376.2 L645.8 1376.2 L650.1 1376.2 L654.5 1376.1 L658.8 1375.9 L663.2 1375.7 L667.5 1375.4 L671.8 1375.0 L676.2 1374.6 L680.5 1374.2 L684.9 1373.7 L689.2 1373.2 L693.5 1372.6 L697.9 1371.9 L702.2 1371.2 L706.6 1370.5 L710.9 1369.7 L715.2 1368.9 L719.6 1368.0 L723.9 1367.1 L728.3 1366.2 L732.6 1365.2 L736.9 1364.2 L741.3 1363.1 L745.6 1362.0 L750.0 1360.9 L754.3 1359.7 L758.6 1358.5 L763.0 1357.2 L767.3 1355.9 L771.7 1354.6 L776.0 1353.2 L780.3 1351.8 L784.7 1350.4 L789.0 1348.9 L793.4 1347.4 L797.7 1345.8 L802.0 1344.2 L806.4 1342.6 L810.7 1341.0 L815.1 1339.3 L819.4 1337.5 L823.7 1335.8 L828.1 1334.0 L832.4 1332.2 L836.8 1330.4 L841.1 1328.5 L845.4 1326.7 L849.8 1324.8 L854.1 1322.8 L858.5 1320.9 L862.8 1319.0 L867.1 1317.0 L871.5 1315.0 L875.8 1313.0 L880.2 1311.0 L884.5 1309.0 L888.8 1307.0 L893.2 1304.9 L897.5 1302.9 L901.9 1300.9 L906.2 1298.8 L910.5 1296.8 L914.9 1294.7 L919.2 1292.7 L923.6 1290.6 L927.9 1288.6 L932.2 1286.5 L936.6 1284.4 L940.9 1282.4 L945.3 1280.3 L949.6 1278.2 L954.0 1276.1 L958.3 1274.0 L962.6 1271.9 L967.0 1269.8 L971.3 1267.7 L975.7 1265.6 L980.0 1263.5 L984.3 1261.4 L988.7 1259.3 L993.0 1257.2 L997.4 1255.1 L1001.7 1253.0 L1006.0 1250.9 L1010.4 1248.8 L1014.7 1246.7 L1019.1 1244.6 L1023.4 1242.5 L1027.7 1240.4 L1032.1 1238.4 L1036.4 1236.3 L1040.8 1234.3 L1045.1 1232.2 L1049.4 1230.2 L1053.8 1228.2 L1058.1 1226.2 L1062.5 1224.2 L1066.8 1222.3 L1071.1 1220.4 L1075.5 1218.4 L1079.8 1216.5 L1084.2 1214.6 L1088.5 1212.8 L1092.8 1210.9 L1097.2 1209.1 L1101.5 1207.2 L1105.9 1205.4 L1110.2 1203.6 L1114.5 1201.8 L1118.9 1200.0 L1123.2 1198.2 L1127.6 1196.4 L1131.9 1194.6 L1136.2 1192.8 L1140.6 1191.1 L1144.9 1189.3 L1149.3 1187.5 L1153.6 1185.8" fill="none" stroke="#ff2d2d" stroke-width="4.3" stroke-linejoin="round" stroke-linecap="butt" clip-path="url(#cc)"/>
<g transform="translate(188.3 1060.1) scale(0.9570 1)"><text font-family="'Liberation Sans',sans-serif" font-weight="bold" font-size="47.9" fill="#000">0.90</text></g>
<g transform="translate(188.15 1200.16) scale(0.9570 1)"><text font-family="'Liberation Sans',sans-serif" font-weight="bold" font-size="47.9" fill="#000">0.89</text></g>
<g transform="translate(187.84 1340.22) scale(0.9570 1)"><text font-family="'Liberation Sans',sans-serif" font-weight="bold" font-size="47.9" fill="#000">0.88</text></g>
<g transform="translate(188.45 1480.28) scale(0.9570 1)"><text font-family="'Liberation Sans',sans-serif" font-weight="bold" font-size="47.9" fill="#000">0.87</text></g>
<g transform="translate(188.15 1620.34) scale(0.9570 1)"><text font-family="'Liberation Sans',sans-serif" font-weight="bold" font-size="47.9" fill="#000">0.86</text></g>
<g transform="translate(187.84 1760.4) scale(0.9570 1)"><text font-family="'Liberation Sans',sans-serif" font-weight="bold" font-size="47.9" fill="#000">0.85</text></g>
<g transform="translate(334.62 1796.6) scale(0.9500 1)"><text font-family="'Liberation Sans',sans-serif" font-weight="bold" font-size="47.9" fill="#000">0.51</text><rect x="67.54" y="-6.09" width="9.7" height="7.29" fill="#fff"/><rect x="84.86" y="-6.09" width="8.38" height="7.29" fill="#fff"/></g>
<g transform="translate(506.07 1796.6) scale(0.9500 1)"><text font-family="'Liberation Sans',sans-serif" font-weight="bold" font-size="47.9" fill="#000">0.52</text></g>
<g transform="translate(677.52 1796.6) scale(0.9500 1)"><text font-family="'Liberation Sans',sans-serif" font-weight="bold" font-size="47.9" fill="#000">0.53</text></g>
<g transform="translate(848.97 1796.6) scale(0.9500 1)"><text font-family="'Liberation Sans',sans-serif" font-weight="bold" font-size="47.9" fill="#000">0.54</text></g>
<g transform="translate(1020.42 1796.6) scale(0.9500 1)"><text font-family="'Liberation Sans',sans-serif" font-weight="bold" font-size="47.9" fill="#000">0.55</text></g>
<g transform="translate(507.19 1884.2) scale(0.9692 1)"><text font-family="'Liberation Sans',sans-serif" font-weight="normal" font-size="60.8" fill="#1a1a1a">Frequency(THz)</text></g>
<text transform="translate(142.8 1553.48) rotate(-90) scale(0.9720 1)" font-family="'Liberation Sans',sans-serif" font-weight="normal" font-size="60.8" fill="#1a1a1a">Transmission</text>
<text transform="translate(16.19 985.24) scale(1.0506 1)" font-family="'Liberation Serif',serif" font-weight="bold" font-size="83.71" fill="#000">(c)</text>
<line x1="919.8" y1="1442.5" x2="994.8" y2="1442.5" stroke="#333333" stroke-width="4.5" stroke-linecap="butt"/>
<g transform="translate(1002.45 1454.1) scale(0.9680 1)"><text font-family="'Liberation Sans',sans-serif" font-weight="bold" font-size="47.9" fill="#000">1µm</text><rect x="0.96" y="-6.09" width="9.7" height="7.29" fill="#fff"/><rect x="18.27" y="-6.09" width="8.38" height="7.29" fill="#fff"/></g>
<line x1="919" y1="1496.3" x2="994" y2="1496.3" stroke="#2e8b3a" stroke-width="4.5" stroke-linecap="butt"/>
<g transform="translate(1001.45 1507.6) scale(0.9680 1)"><text font-family="'Liberation Sans',sans-serif" font-weight="bold" font-size="47.9" fill="#000">1.5µm</text><rect x="0.96" y="-6.09" width="9.7" height="7.29" fill="#fff"/><rect x="18.27" y="-6.09" width="8.38" height="7.29" fill="#fff"/></g>
<line x1="919" y1="1549.8" x2="994" y2="1549.8" stroke="#4f81bd" stroke-width="4.5" stroke-linecap="butt"/>
<g transform="translate(1009.75 1560.5) scale(0.9680 1)"><text font-family="'Liberation Sans',sans-serif" font-weight="bold" font-size="47.9" fill="#000">2µm</text></g>
<line x1="916.6" y1="1603.2" x2="991.6" y2="1603.2" stroke="#f79646" stroke-width="4.5" stroke-linecap="butt"/>
<g transform="translate(997.55 1613.5) scale(0.9680 1)"><text font-family="'Liberation Sans',sans-serif" font-weight="bold" font-size="47.9" fill="#000">2.5µm</text></g>
<line x1="917.5" y1="1661.9" x2="993.1" y2="1661.9" stroke="#ff2d2d" stroke-width="4.5" stroke-linecap="butt"/>
<g transform="translate(1001.82 1672.6) scale(0.9680 1)"><text font-family="'Liberation Sans',sans-serif" font-weight="bold" font-size="47.9" fill="#000">3µm</text></g>
<clipPath id="cd"><rect x="1586.5" y="1044.1" width="864" height="702.3"/></clipPath>
<rect x="1588.8" y="1044.1" width="859.4" height="702.3" fill="none" stroke="#262626" stroke-width="4.6" stroke-linejoin="round"/>
<line x1="1632.7" y1="1044.1" x2="1632.7" y2="1057.1" stroke="#262626" stroke-width="4" stroke-linecap="butt"/>
<line x1="1852.9" y1="1044.1" x2="1852.9" y2="1057.1" stroke="#262626" stroke-width="4" stroke-linecap="butt"/>
<line x1="2073.1" y1="1044.1" x2="2073.1" y2="1057.1" stroke="#262626" stroke-width="4" stroke-linecap="butt"/>
<line x1="2293.3" y1="1044.1" x2="2293.3" y2="1057.1" stroke="#262626" stroke-width="4" stroke-linecap="butt"/>
<line x1="1742.8" y1="1044.1" x2="1742.8" y2="1051.3" stroke="#262626" stroke-width="4" stroke-linecap="butt"/>
<line x1="1963" y1="1044.1" x2="1963" y2="1051.3" stroke="#262626" stroke-width="4" stroke-linecap="butt"/>
<line x1="2183.2" y1="1044.1" x2="2183.2" y2="1051.3" stroke="#262626" stroke-width="4" stroke-linecap="butt"/>
<line x1="2403.4" y1="1044.1" x2="2403.4" y2="1051.3" stroke="#262626" stroke-width="4" stroke-linecap="butt"/>
<line x1="1632.7" y1="1746.4" x2="1632.7" y2="1733.4" stroke="#262626" stroke-width="4" stroke-linecap="butt"/>
<line x1="1852.9" y1="1746.4" x2="1852.9" y2="1733.4" stroke="#262626" stroke-width="4" stroke-linecap="butt"/>
<line x1="2073.1" y1="1746.4" x2="2073.1" y2="1733.4" stroke="#262626" stroke-width="4" stroke-linecap="butt"/>
<line x1="2293.3" y1="1746.4" x2="2293.3" y2="1733.4" stroke="#262626" stroke-width="4" stroke-linecap="butt"/>
<line x1="1742.8" y1="1746.4" x2="1742.8" y2="1739.2" stroke="#262626" stroke-width="4" stroke-linecap="butt"/>
<line x1="1963" y1="1746.4" x2="1963" y2="1739.2" stroke="#262626" stroke-width="4" stroke-linecap="butt"/>
<line x1="2183.2" y1="1746.4" x2="2183.2" y2="1739.2" stroke="#262626" stroke-width="4" stroke-linecap="butt"/>
<line x1="2403.4" y1="1746.4" x2="2403.4" y2="1739.2" stroke="#262626" stroke-width="4" stroke-linecap="butt"/>
<line x1="1588.8" y1="1219.67" x2="1601.8" y2="1219.67" stroke="#262626" stroke-width="4" stroke-linecap="butt"/>
<line x1="1588.8" y1="1395.25" x2="1601.8" y2="1395.25" stroke="#262626" stroke-width="4" stroke-linecap="butt"/>
<line x1="1588.8" y1="1570.83" x2="1601.8" y2="1570.83" stroke="#262626" stroke-width="4" stroke-linecap="butt"/>
<line x1="1588.8" y1="1131.89" x2="1596" y2="1131.89" stroke="#262626" stroke-width="4" stroke-linecap="butt"/>
<line x1="1588.8" y1="1307.46" x2="1596" y2="1307.46" stroke="#262626" stroke-width="4" stroke-linecap="butt"/>
<line x1="1588.8" y1="1483.04" x2="1596" y2="1483.04" stroke="#262626" stroke-width="4" stroke-linecap="butt"/>
<line x1="1588.8" y1="1658.61" x2="1596" y2="1658.61" stroke="#262626" stroke-width="4" stroke-linecap="butt"/>
<line x1="2448.2" y1="1219.67" x2="2435.2" y2="1219.67" stroke="#262626" stroke-width="4" stroke-linecap="butt"/>
<line x1="2448.2" y1="1395.25" x2="2435.2" y2="1395.25" stroke="#262626" stroke-width="4" stroke-linecap="butt"/>
<line x1="2448.2" y1="1570.83" x2="2435.2" y2="1570.83" stroke="#262626" stroke-width="4" stroke-linecap="butt"/>
<line x1="2448.2" y1="1131.89" x2="2441" y2="1131.89" stroke="#262626" stroke-width="4" stroke-linecap="butt"/>
<line x1="2448.2" y1="1307.46" x2="2441" y2="1307.46" stroke="#262626" stroke-width="4" stroke-linecap="butt"/>
<line x1="2448.2" y1="1483.04" x2="2441" y2="1483.04" stroke="#262626" stroke-width="4" stroke-linecap="butt"/>
<line x1="2448.2" y1="1658.61" x2="2441" y2="1658.61" stroke="#262626" stroke-width="4" stroke-linecap="butt"/>
<path d="M1586.5 1684.5 L1590.8 1683.8 L1595.2 1683.1 L1599.5 1682.4 L1603.9 1681.8 L1608.2 1681.1 L1612.5 1680.5 L1616.9 1679.8 L1621.2 1679.2 L1625.6 1678.6 L1629.9 1678.0 L1634.2 1677.4 L1638.6 1676.8 L1642.9 1676.3 L1647.3 1675.7 L1651.6 1675.2 L1656.0 1674.7 L1660.3 1674.2 L1664.6 1673.8 L1669.0 1673.3 L1673.3 1672.8 L1677.7 1672.4 L1682.0 1672.0 L1686.3 1671.6 L1690.7 1671.2 L1695.0 1670.8 L1699.4 1670.4 L1703.7 1670.1 L1708.0 1669.7 L1712.4 1669.4 L1716.7 1669.0 L1721.1 1668.7 L1725.4 1668.4 L1729.7 1668.1 L1734.1 1667.8 L1738.4 1667.5 L1742.8 1667.2 L1747.1 1666.9 L1751.4 1666.6 L1755.8 1666.4 L1760.1 1666.1 L1764.5 1665.9 L1768.8 1665.6 L1773.2 1665.4 L1777.5 1665.1 L1781.8 1664.9 L1786.2 1664.7 L1790.5 1664.4 L1794.9 1664.2 L1799.2 1664.0 L1803.5 1663.8 L1807.9 1663.6 L1812.2 1663.4 L1816.6 1663.3 L1820.9 1663.1 L1825.2 1662.9 L1829.6 1662.7 L1833.9 1662.6 L1838.3 1662.4 L1842.6 1662.3 L1846.9 1662.2 L1851.3 1662.0 L1855.6 1661.9 L1860.0 1661.8 L1864.3 1661.7 L1868.6 1661.6 L1873.0 1661.5 L1877.3 1661.4 L1881.7 1661.3 L1886.0 1661.2 L1890.3 1661.2 L1894.7 1661.1 L1899.0 1661.1 L1903.4 1661.0 L1907.7 1661.0 L1912.1 1661.0 L1916.4 1661.0 L1920.7 1660.9 L1925.1 1660.9 L1929.4 1660.9 L1933.8 1661.0 L1938.1 1661.0 L1942.4 1661.0 L1946.8 1661.1 L1951.1 1661.1 L1955.5 1661.2 L1959.8 1661.3 L1964.1 1661.3 L1968.5 1661.4 L1972.8 1661.5 L1977.2 1661.6 L1981.5 1661.8 L1985.8 1661.9 L1990.2 1662.0 L1994.5 1662.2 L1998.9 1662.3 L2003.2 1662.5 L2007.5 1662.6 L2011.9 1662.8 L2016.2 1663.0 L2020.6 1663.1 L2024.9 1663.3 L2029.3 1663.5 L2033.6 1663.7 L2037.9 1663.9 L2042.3 1664.1 L2046.6 1664.3 L2051.0 1664.6 L2055.3 1664.8 L2059.6 1665.0 L2064.0 1665.2 L2068.3 1665.5 L2072.7 1665.7 L2077.0 1665.9 L2081.3 1666.2 L2085.7 1666.4 L2090.0 1666.6 L2094.4 1666.9 L2098.7 1667.1 L2103.0 1667.4 L2107.4 1667.6 L2111.7 1667.9 L2116.1 1668.1 L2120.4 1668.4 L2124.7 1668.7 L2129.1 1668.9 L2133.4 1669.2 L2137.8 1669.5 L2142.1 1669.8 L2146.5 1670.0 L2150.8 1670.3 L2155.1 1670.6 L2159.5 1670.9 L2163.8 1671.2 L2168.2 1671.5 L2172.5 1671.8 L2176.8 1672.2 L2181.2 1672.5 L2185.5 1672.8 L2189.9 1673.1 L2194.2 1673.5 L2198.5 1673.8 L2202.9 1674.2 L2207.2 1674.5 L2211.6 1674.9 L2215.9 1675.2 L2220.2 1675.6 L2224.6 1675.9 L2228.9 1676.3 L2233.3 1676.7 L2237.6 1677.0 L2241.9 1677.4 L2246.3 1677.8 L2250.6 1678.2 L2255.0 1678.5 L2259.3 1678.9 L2263.6 1679.3 L2268.0 1679.7 L2272.3 1680.1 L2276.7 1680.4 L2281.0 1680.8 L2285.4 1681.2 L2289.7 1681.6 L2294.0 1682.0 L2298.4 1682.4 L2302.7 1682.8 L2307.1 1683.2 L2311.4 1683.5 L2315.7 1683.9 L2320.1 1684.3 L2324.4 1684.7 L2328.8 1685.1 L2333.1 1685.5 L2337.4 1685.9 L2341.8 1686.3 L2346.1 1686.7 L2350.5 1687.2 L2354.8 1687.6 L2359.1 1688.0 L2363.5 1688.4 L2367.8 1688.9 L2372.2 1689.3 L2376.5 1689.8 L2380.8 1690.3 L2385.2 1690.7 L2389.5 1691.2 L2393.9 1691.7 L2398.2 1692.2 L2402.6 1692.7 L2406.9 1693.3 L2411.2 1693.8 L2415.6 1694.4 L2419.9 1694.9 L2424.3 1695.5 L2428.6 1696.0 L2432.9 1696.6 L2437.3 1697.2 L2441.6 1697.8 L2446.0 1698.3 L2450.3 1698.9" fill="none" stroke="#333333" stroke-width="4.3" stroke-linejoin="round" stroke-linecap="butt" clip-path="url(#cd)"/>
<path d="M1586.5 1652.2 L1590.8 1651.1 L1595.2 1649.9 L1599.5 1648.8 L1603.9 1647.7 L1608.2 1646.6 L1612.5 1645.5 L1616.9 1644.4 L1621.2 1643.3 L1625.6 1642.3 L1629.9 1641.3 L1634.2 1640.4 L1638.6 1639.4 L1642.9 1638.5 L1647.3 1637.7 L1651.6 1636.8 L1656.0 1636.0 L1660.3 1635.2 L1664.6 1634.5 L1669.0 1633.8 L1673.3 1633.1 L1677.7 1632.4 L1682.0 1631.8 L1686.3 1631.1 L1690.7 1630.5 L1695.0 1629.9 L1699.4 1629.4 L1703.7 1628.8 L1708.0 1628.3 L1712.4 1627.8 L1716.7 1627.3 L1721.1 1626.8 L1725.4 1626.3 L1729.7 1625.8 L1734.1 1625.4 L1738.4 1624.9 L1742.8 1624.5 L1747.1 1624.1 L1751.4 1623.6 L1755.8 1623.2 L1760.1 1622.8 L1764.5 1622.4 L1768.8 1622.0 L1773.2 1621.6 L1777.5 1621.2 L1781.8 1620.9 L1786.2 1620.5 L1790.5 1620.2 L1794.9 1619.8 L1799.2 1619.5 L1803.5 1619.2 L1807.9 1618.9 L1812.2 1618.6 L1816.6 1618.3 L1820.9 1618.0 L1825.2 1617.7 L1829.6 1617.5 L1833.9 1617.3 L1838.3 1617.0 L1842.6 1616.8 L1846.9 1616.6 L1851.3 1616.4 L1855.6 1616.3 L1860.0 1616.1 L1864.3 1616.0 L1868.6 1615.8 L1873.0 1615.7 L1877.3 1615.6 L1881.7 1615.5 L1886.0 1615.5 L1890.3 1615.4 L1894.7 1615.4 L1899.0 1615.3 L1903.4 1615.3 L1907.7 1615.3 L1912.1 1615.3 L1916.4 1615.3 L1920.7 1615.3 L1925.1 1615.4 L1929.4 1615.4 L1933.8 1615.5 L1938.1 1615.6 L1942.4 1615.7 L1946.8 1615.8 L1951.1 1615.9 L1955.5 1616.0 L1959.8 1616.1 L1964.1 1616.3 L1968.5 1616.4 L1972.8 1616.6 L1977.2 1616.7 L1981.5 1616.9 L1985.8 1617.1 L1990.2 1617.3 L1994.5 1617.5 L1998.9 1617.7 L2003.2 1618.0 L2007.5 1618.2 L2011.9 1618.5 L2016.2 1618.7 L2020.6 1619.0 L2024.9 1619.2 L2029.3 1619.5 L2033.6 1619.8 L2037.9 1620.1 L2042.3 1620.4 L2046.6 1620.7 L2051.0 1621.0 L2055.3 1621.3 L2059.6 1621.7 L2064.0 1622.0 L2068.3 1622.3 L2072.7 1622.7 L2077.0 1623.0 L2081.3 1623.4 L2085.7 1623.7 L2090.0 1624.1 L2094.4 1624.5 L2098.7 1624.9 L2103.0 1625.2 L2107.4 1625.6 L2111.7 1626.0 L2116.1 1626.4 L2120.4 1626.8 L2124.7 1627.2 L2129.1 1627.6 L2133.4 1628.1 L2137.8 1628.5 L2142.1 1628.9 L2146.5 1629.3 L2150.8 1629.8 L2155.1 1630.2 L2159.5 1630.7 L2163.8 1631.1 L2168.2 1631.6 L2172.5 1632.0 L2176.8 1632.5 L2181.2 1632.9 L2185.5 1633.4 L2189.9 1633.9 L2194.2 1634.3 L2198.5 1634.8 L2202.9 1635.3 L2207.2 1635.8 L2211.6 1636.3 L2215.9 1636.8 L2220.2 1637.3 L2224.6 1637.8 L2228.9 1638.3 L2233.3 1638.8 L2237.6 1639.3 L2241.9 1639.8 L2246.3 1640.3 L2250.6 1640.8 L2255.0 1641.4 L2259.3 1641.9 L2263.6 1642.4 L2268.0 1643.0 L2272.3 1643.5 L2276.7 1644.1 L2281.0 1644.6 L2285.4 1645.2 L2289.7 1645.8 L2294.0 1646.3 L2298.4 1646.9 L2302.7 1647.5 L2307.1 1648.1 L2311.4 1648.7 L2315.7 1649.3 L2320.1 1649.9 L2324.4 1650.5 L2328.8 1651.1 L2333.1 1651.7 L2337.4 1652.3 L2341.8 1652.9 L2346.1 1653.6 L2350.5 1654.2 L2354.8 1654.9 L2359.1 1655.5 L2363.5 1656.2 L2367.8 1656.8 L2372.2 1657.5 L2376.5 1658.2 L2380.8 1658.8 L2385.2 1659.5 L2389.5 1660.2 L2393.9 1660.9 L2398.2 1661.6 L2402.6 1662.3 L2406.9 1663.0 L2411.2 1663.8 L2415.6 1664.5 L2419.9 1665.2 L2424.3 1665.9 L2428.6 1666.7 L2432.9 1667.4 L2437.3 1668.2 L2441.6 1668.9 L2446.0 1669.7 L2450.3 1670.4" fill="none" stroke="#2e8b3a" stroke-width="4.3" stroke-linejoin="round" stroke-linecap="butt" clip-path="url(#cd)"/>
<path d="M1586.5 1619.7 L1590.8 1618.4 L1595.2 1617.1 L1599.5 1615.7 L1603.9 1614.4 L1608.2 1613.1 L1612.5 1611.8 L1616.9 1610.5 L1621.2 1609.3 L1625.6 1608.0 L1629.9 1606.8 L1634.2 1605.6 L1638.6 1604.4 L1642.9 1603.2 L1647.3 1602.1 L1651.6 1600.9 L1656.0 1599.8 L1660.3 1598.8 L1664.6 1597.7 L1669.0 1596.7 L1673.3 1595.6 L1677.7 1594.7 L1682.0 1593.7 L1686.3 1592.7 L1690.7 1591.8 L1695.0 1590.9 L1699.4 1590.0 L1703.7 1589.1 L1708.0 1588.3 L1712.4 1587.5 L1716.7 1586.6 L1721.1 1585.9 L1725.4 1585.1 L1729.7 1584.3 L1734.1 1583.6 L1738.4 1582.9 L1742.8 1582.2 L1747.1 1581.5 L1751.4 1580.9 L1755.8 1580.2 L1760.1 1579.6 L1764.5 1579.0 L1768.8 1578.5 L1773.2 1577.9 L1777.5 1577.4 L1781.8 1576.9 L1786.2 1576.4 L1790.5 1575.9 L1794.9 1575.4 L1799.2 1575.0 L1803.5 1574.6 L1807.9 1574.2 L1812.2 1573.8 L1816.6 1573.5 L1820.9 1573.1 L1825.2 1572.8 L1829.6 1572.5 L1833.9 1572.2 L1838.3 1572.0 L1842.6 1571.7 L1846.9 1571.5 L1851.3 1571.3 L1855.6 1571.2 L1860.0 1571.0 L1864.3 1570.9 L1868.6 1570.8 L1873.0 1570.7 L1877.3 1570.6 L1881.7 1570.6 L1886.0 1570.5 L1890.3 1570.5 L1894.7 1570.5 L1899.0 1570.5 L1903.4 1570.5 L1907.7 1570.6 L1912.1 1570.7 L1916.4 1570.7 L1920.7 1570.8 L1925.1 1570.9 L1929.4 1571.1 L1933.8 1571.2 L1938.1 1571.3 L1942.4 1571.5 L1946.8 1571.7 L1951.1 1571.9 L1955.5 1572.1 L1959.8 1572.3 L1964.1 1572.5 L1968.5 1572.7 L1972.8 1573.0 L1977.2 1573.2 L1981.5 1573.5 L1985.8 1573.8 L1990.2 1574.0 L1994.5 1574.3 L1998.9 1574.6 L2003.2 1575.0 L2007.5 1575.3 L2011.9 1575.6 L2016.2 1576.0 L2020.6 1576.3 L2024.9 1576.7 L2029.3 1577.1 L2033.6 1577.5 L2037.9 1577.9 L2042.3 1578.3 L2046.6 1578.7 L2051.0 1579.1 L2055.3 1579.6 L2059.6 1580.0 L2064.0 1580.5 L2068.3 1581.0 L2072.7 1581.5 L2077.0 1582.0 L2081.3 1582.5 L2085.7 1583.0 L2090.0 1583.5 L2094.4 1584.1 L2098.7 1584.6 L2103.0 1585.2 L2107.4 1585.7 L2111.7 1586.3 L2116.1 1586.9 L2120.4 1587.4 L2124.7 1588.0 L2129.1 1588.6 L2133.4 1589.2 L2137.8 1589.8 L2142.1 1590.4 L2146.5 1591.0 L2150.8 1591.7 L2155.1 1592.3 L2159.5 1592.9 L2163.8 1593.5 L2168.2 1594.2 L2172.5 1594.8 L2176.8 1595.4 L2181.2 1596.1 L2185.5 1596.7 L2189.9 1597.3 L2194.2 1598.0 L2198.5 1598.6 L2202.9 1599.3 L2207.2 1599.9 L2211.6 1600.5 L2215.9 1601.2 L2220.2 1601.9 L2224.6 1602.5 L2228.9 1603.2 L2233.3 1603.8 L2237.6 1604.5 L2241.9 1605.2 L2246.3 1605.9 L2250.6 1606.5 L2255.0 1607.2 L2259.3 1607.9 L2263.6 1608.6 L2268.0 1609.4 L2272.3 1610.1 L2276.7 1610.8 L2281.0 1611.5 L2285.4 1612.3 L2289.7 1613.0 L2294.0 1613.8 L2298.4 1614.6 L2302.7 1615.3 L2307.1 1616.1 L2311.4 1616.9 L2315.7 1617.7 L2320.1 1618.5 L2324.4 1619.3 L2328.8 1620.2 L2333.1 1621.0 L2337.4 1621.8 L2341.8 1622.7 L2346.1 1623.5 L2350.5 1624.4 L2354.8 1625.3 L2359.1 1626.1 L2363.5 1627.0 L2367.8 1627.9 L2372.2 1628.8 L2376.5 1629.7 L2380.8 1630.6 L2385.2 1631.5 L2389.5 1632.4 L2393.9 1633.4 L2398.2 1634.3 L2402.6 1635.2 L2406.9 1636.1 L2411.2 1637.1 L2415.6 1638.0 L2419.9 1639.0 L2424.3 1639.9 L2428.6 1640.8 L2432.9 1641.8 L2437.3 1642.7 L2441.6 1643.7 L2446.0 1644.7 L2450.3 1645.6" fill="none" stroke="#4f81bd" stroke-width="4.3" stroke-linejoin="round" stroke-linecap="butt" clip-path="url(#cd)"/>
<path d="M1586.5 1583.4 L1590.8 1581.9 L1595.2 1580.3 L1599.5 1578.7 L1603.9 1577.1 L1608.2 1575.6 L1612.5 1574.0 L1616.9 1572.5 L1621.2 1571.0 L1625.6 1569.4 L1629.9 1568.0 L1634.2 1566.5 L1638.6 1565.0 L1642.9 1563.6 L1647.3 1562.2 L1651.6 1560.8 L1656.0 1559.4 L1660.3 1558.1 L1664.6 1556.7 L1669.0 1555.4 L1673.3 1554.2 L1677.7 1552.9 L1682.0 1551.7 L1686.3 1550.5 L1690.7 1549.3 L1695.0 1548.2 L1699.4 1547.1 L1703.7 1546.0 L1708.0 1545.0 L1712.4 1543.9 L1716.7 1542.9 L1721.1 1542.0 L1725.4 1541.1 L1729.7 1540.2 L1734.1 1539.3 L1738.4 1538.5 L1742.8 1537.7 L1747.1 1537.0 L1751.4 1536.2 L1755.8 1535.5 L1760.1 1534.9 L1764.5 1534.3 L1768.8 1533.7 L1773.2 1533.1 L1777.5 1532.6 L1781.8 1532.1 L1786.2 1531.6 L1790.5 1531.2 L1794.9 1530.8 L1799.2 1530.4 L1803.5 1530.0 L1807.9 1529.7 L1812.2 1529.4 L1816.6 1529.1 L1820.9 1528.8 L1825.2 1528.6 L1829.6 1528.4 L1833.9 1528.2 L1838.3 1528.0 L1842.6 1527.8 L1846.9 1527.7 L1851.3 1527.5 L1855.6 1527.4 L1860.0 1527.3 L1864.3 1527.2 L1868.6 1527.2 L1873.0 1527.1 L1877.3 1527.1 L1881.7 1527.1 L1886.0 1527.1 L1890.3 1527.1 L1894.7 1527.2 L1899.0 1527.2 L1903.4 1527.3 L1907.7 1527.4 L1912.1 1527.5 L1916.4 1527.6 L1920.7 1527.8 L1925.1 1527.9 L1929.4 1528.1 L1933.8 1528.3 L1938.1 1528.5 L1942.4 1528.8 L1946.8 1529.0 L1951.1 1529.3 L1955.5 1529.6 L1959.8 1529.9 L1964.1 1530.2 L1968.5 1530.6 L1972.8 1531.0 L1977.2 1531.3 L1981.5 1531.8 L1985.8 1532.2 L1990.2 1532.6 L1994.5 1533.1 L1998.9 1533.5 L2003.2 1534.0 L2007.5 1534.5 L2011.9 1535.0 L2016.2 1535.5 L2020.6 1536.0 L2024.9 1536.6 L2029.3 1537.1 L2033.6 1537.7 L2037.9 1538.3 L2042.3 1538.8 L2046.6 1539.4 L2051.0 1540.0 L2055.3 1540.6 L2059.6 1541.2 L2064.0 1541.8 L2068.3 1542.4 L2072.7 1543.1 L2077.0 1543.7 L2081.3 1544.3 L2085.7 1545.0 L2090.0 1545.6 L2094.4 1546.2 L2098.7 1546.9 L2103.0 1547.5 L2107.4 1548.2 L2111.7 1548.8 L2116.1 1549.5 L2120.4 1550.2 L2124.7 1550.8 L2129.1 1551.5 L2133.4 1552.2 L2137.8 1552.9 L2142.1 1553.6 L2146.5 1554.3 L2150.8 1555.0 L2155.1 1555.7 L2159.5 1556.5 L2163.8 1557.2 L2168.2 1557.9 L2172.5 1558.7 L2176.8 1559.5 L2181.2 1560.2 L2185.5 1561.0 L2189.9 1561.8 L2194.2 1562.5 L2198.5 1563.3 L2202.9 1564.1 L2207.2 1564.9 L2211.6 1565.8 L2215.9 1566.6 L2220.2 1567.4 L2224.6 1568.2 L2228.9 1569.1 L2233.3 1569.9 L2237.6 1570.8 L2241.9 1571.7 L2246.3 1572.5 L2250.6 1573.4 L2255.0 1574.3 L2259.3 1575.2 L2263.6 1576.0 L2268.0 1576.9 L2272.3 1577.8 L2276.7 1578.7 L2281.0 1579.7 L2285.4 1580.6 L2289.7 1581.5 L2294.0 1582.4 L2298.4 1583.4 L2302.7 1584.3 L2307.1 1585.2 L2311.4 1586.2 L2315.7 1587.1 L2320.1 1588.1 L2324.4 1589.0 L2328.8 1590.0 L2333.1 1591.0 L2337.4 1591.9 L2341.8 1592.9 L2346.1 1593.9 L2350.5 1594.9 L2354.8 1595.8 L2359.1 1596.8 L2363.5 1597.8 L2367.8 1598.8 L2372.2 1599.8 L2376.5 1600.8 L2380.8 1601.9 L2385.2 1602.9 L2389.5 1603.9 L2393.9 1604.9 L2398.2 1606.0 L2402.6 1607.0 L2406.9 1608.0 L2411.2 1609.1 L2415.6 1610.1 L2419.9 1611.2 L2424.3 1612.2 L2428.6 1613.3 L2432.9 1614.3 L2437.3 1615.4 L2441.6 1616.4 L2446.0 1617.5 L2450.3 1618.6" fill="none" stroke="#f79646" stroke-width="4.3" stroke-linejoin="round" stroke-linecap="butt" clip-path="url(#cd)"/>
<path d="M1586.5 1546.8 L1590.8 1544.7 L1595.2 1542.5 L1599.5 1540.4 L1603.9 1538.2 L1608.2 1536.1 L1612.5 1534.0 L1616.9 1532.0 L1621.2 1529.9 L1625.6 1527.9 L1629.9 1525.9 L1634.2 1524.0 L1638.6 1522.1 L1642.9 1520.3 L1647.3 1518.5 L1651.6 1516.8 L1656.0 1515.1 L1660.3 1513.5 L1664.6 1511.9 L1669.0 1510.3 L1673.3 1508.8 L1677.7 1507.4 L1682.0 1505.9 L1686.3 1504.6 L1690.7 1503.2 L1695.0 1501.9 L1699.4 1500.6 L1703.7 1499.4 L1708.0 1498.2 L1712.4 1497.1 L1716.7 1496.0 L1721.1 1494.9 L1725.4 1493.8 L1729.7 1492.8 L1734.1 1491.9 L1738.4 1490.9 L1742.8 1490.0 L1747.1 1489.1 L1751.4 1488.3 L1755.8 1487.5 L1760.1 1486.7 L1764.5 1485.9 L1768.8 1485.2 L1773.2 1484.5 L1777.5 1483.9 L1781.8 1483.3 L1786.2 1482.7 L1790.5 1482.1 L1794.9 1481.6 L1799.2 1481.1 L1803.5 1480.6 L1807.9 1480.2 L1812.2 1479.8 L1816.6 1479.4 L1820.9 1479.1 L1825.2 1478.8 L1829.6 1478.5 L1833.9 1478.3 L1838.3 1478.1 L1842.6 1477.9 L1846.9 1477.7 L1851.3 1477.6 L1855.6 1477.5 L1860.0 1477.5 L1864.3 1477.5 L1868.6 1477.5 L1873.0 1477.5 L1877.3 1477.6 L1881.7 1477.6 L1886.0 1477.8 L1890.3 1477.9 L1894.7 1478.1 L1899.0 1478.3 L1903.4 1478.5 L1907.7 1478.7 L1912.1 1479.0 L1916.4 1479.3 L1920.7 1479.6 L1925.1 1479.9 L1929.4 1480.2 L1933.8 1480.6 L1938.1 1481.0 L1942.4 1481.4 L1946.8 1481.8 L1951.1 1482.3 L1955.5 1482.7 L1959.8 1483.2 L1964.1 1483.7 L1968.5 1484.2 L1972.8 1484.7 L1977.2 1485.3 L1981.5 1485.8 L1985.8 1486.4 L1990.2 1487.0 L1994.5 1487.6 L1998.9 1488.2 L2003.2 1488.8 L2007.5 1489.4 L2011.9 1490.1 L2016.2 1490.7 L2020.6 1491.4 L2024.9 1492.1 L2029.3 1492.7 L2033.6 1493.4 L2037.9 1494.2 L2042.3 1494.9 L2046.6 1495.6 L2051.0 1496.3 L2055.3 1497.1 L2059.6 1497.8 L2064.0 1498.6 L2068.3 1499.4 L2072.7 1500.2 L2077.0 1500.9 L2081.3 1501.7 L2085.7 1502.5 L2090.0 1503.4 L2094.4 1504.2 L2098.7 1505.0 L2103.0 1505.8 L2107.4 1506.7 L2111.7 1507.5 L2116.1 1508.4 L2120.4 1509.2 L2124.7 1510.1 L2129.1 1511.0 L2133.4 1511.9 L2137.8 1512.8 L2142.1 1513.7 L2146.5 1514.6 L2150.8 1515.5 L2155.1 1516.4 L2159.5 1517.4 L2163.8 1518.3 L2168.2 1519.2 L2172.5 1520.2 L2176.8 1521.2 L2181.2 1522.1 L2185.5 1523.1 L2189.9 1524.1 L2194.2 1525.1 L2198.5 1526.1 L2202.9 1527.1 L2207.2 1528.1 L2211.6 1529.2 L2215.9 1530.2 L2220.2 1531.2 L2224.6 1532.3 L2228.9 1533.4 L2233.3 1534.4 L2237.6 1535.5 L2241.9 1536.6 L2246.3 1537.7 L2250.6 1538.8 L2255.0 1540.0 L2259.3 1541.1 L2263.6 1542.2 L2268.0 1543.4 L2272.3 1544.6 L2276.7 1545.7 L2281.0 1546.9 L2285.4 1548.1 L2289.7 1549.4 L2294.0 1550.6 L2298.4 1551.8 L2302.7 1553.1 L2307.1 1554.4 L2311.4 1555.6 L2315.7 1556.9 L2320.1 1558.2 L2324.4 1559.5 L2328.8 1560.8 L2333.1 1562.1 L2337.4 1563.4 L2341.8 1564.7 L2346.1 1566.1 L2350.5 1567.4 L2354.8 1568.7 L2359.1 1570.0 L2363.5 1571.4 L2367.8 1572.7 L2372.2 1574.0 L2376.5 1575.3 L2380.8 1576.7 L2385.2 1578.0 L2389.5 1579.3 L2393.9 1580.6 L2398.2 1581.9 L2402.6 1583.2 L2406.9 1584.4 L2411.2 1585.7 L2415.6 1587.0 L2419.9 1588.2 L2424.3 1589.5 L2428.6 1590.7 L2432.9 1592.0 L2437.3 1593.2 L2441.6 1594.5 L2446.0 1595.7 L2450.3 1597.0" fill="none" stroke="#ff2d2d" stroke-width="4.3" stroke-linejoin="round" stroke-linecap="butt" clip-path="url(#cd)"/>
<g transform="translate(1482.87 1056.8) scale(0.9570 1)"><text font-family="'Liberation Sans',sans-serif" font-weight="bold" font-size="47.9" fill="#000">0.04</text></g>
<g transform="translate(1484.25 1232.38) scale(0.9570 1)"><text font-family="'Liberation Sans',sans-serif" font-weight="bold" font-size="47.9" fill="#000">0.03</text></g>
<g transform="translate(1484.4 1407.95) scale(0.9570 1)"><text font-family="'Liberation Sans',sans-serif" font-weight="bold" font-size="47.9" fill="#000">0.02</text></g>
<g transform="translate(1490.97 1583.53) scale(0.9570 1)"><text font-family="'Liberation Sans',sans-serif" font-weight="bold" font-size="47.9" fill="#000">0.01</text><rect x="67.54" y="-6.09" width="9.7" height="7.29" fill="#fff"/><rect x="84.86" y="-6.09" width="8.38" height="7.29" fill="#fff"/></g>
<g transform="translate(1484.4 1759.1) scale(0.9570 1)"><text font-family="'Liberation Sans',sans-serif" font-weight="bold" font-size="47.9" fill="#000">0.00</text></g>
<g transform="translate(1589.22 1796.6) scale(0.9500 1)"><text font-family="'Liberation Sans',sans-serif" font-weight="bold" font-size="47.9" fill="#000">0.51</text><rect x="67.54" y="-6.09" width="9.7" height="7.29" fill="#fff"/><rect x="84.86" y="-6.09" width="8.38" height="7.29" fill="#fff"/></g>
<g transform="translate(1809.42 1796.6) scale(0.9500 1)"><text font-family="'Liberation Sans',sans-serif" font-weight="bold" font-size="47.9" fill="#000">0.52</text></g>
<g transform="translate(2029.62 1796.6) scale(0.9500 1)"><text font-family="'Liberation Sans',sans-serif" font-weight="bold" font-size="47.9" fill="#000">0.53</text></g>
<g transform="translate(2249.82 1796.6) scale(0.9500 1)"><text font-family="'Liberation Sans',sans-serif" font-weight="bold" font-size="47.9" fill="#000">0.54</text></g>
<g transform="translate(1803.68 1884.2) scale(0.9710 1)"><text font-family="'Liberation Sans',sans-serif" font-weight="normal" font-size="60.8" fill="#1a1a1a">Frequency(THz)</text></g>
<text transform="translate(1439.8 1518.3) rotate(-90) scale(0.9778 1)" font-family="'Liberation Sans',sans-serif" font-weight="normal" font-size="60.8" fill="#1a1a1a">Absorption</text>
<text transform="translate(1259.74 1001.44) scale(1.0373 1)" font-family="'Liberation Serif',serif" font-weight="bold" font-size="83.71" fill="#000">(d)</text>
<line x1="2212.8" y1="1128.5" x2="2287.9" y2="1128.5" stroke="#333333" stroke-width="4.5" stroke-linecap="butt"/>
<g transform="translate(2294.05 1140.4) scale(0.9680 1)"><text font-family="'Liberation Sans',sans-serif" font-weight="bold" font-size="47.9" fill="#000">1µm</text><rect x="0.96" y="-6.09" width="9.7" height="7.29" fill="#fff"/><rect x="18.27" y="-6.09" width="8.38" height="7.29" fill="#fff"/></g>
<line x1="2213.8" y1="1180.3" x2="2288.8" y2="1180.3" stroke="#2e8b3a" stroke-width="4.5" stroke-linecap="butt"/>
<g transform="translate(2294.95 1190.6) scale(0.9680 1)"><text font-family="'Liberation Sans',sans-serif" font-weight="bold" font-size="47.9" fill="#000">1.5µm</text><rect x="0.96" y="-6.09" width="9.7" height="7.29" fill="#fff"/><rect x="18.27" y="-6.09" width="8.38" height="7.29" fill="#fff"/></g>
<line x1="2214.7" y1="1228" x2="2289.7" y2="1228" stroke="#4f81bd" stroke-width="4.5" stroke-linecap="butt"/>
<g transform="translate(2295.75 1238.3) scale(0.9680 1)"><text font-family="'Liberation Sans',sans-serif" font-weight="bold" font-size="47.9" fill="#000">2µm</text></g>
<line x1="2213.8" y1="1276.4" x2="2288.8" y2="1276.4" stroke="#f79646" stroke-width="4.5" stroke-linecap="butt"/>
<g transform="translate(2294.75 1285.7) scale(0.9680 1)"><text font-family="'Liberation Sans',sans-serif" font-weight="bold" font-size="47.9" fill="#000">2.5µm</text></g>
<line x1="2214.7" y1="1326.1" x2="2290.3" y2="1326.1" stroke="#ff2d2d" stroke-width="4.5" stroke-linecap="butt"/>
<g transform="translate(2297.12 1336) scale(0.9680 1)"><text font-family="'Liberation Sans',sans-serif" font-weight="bold" font-size="47.9" fill="#000">3µm</text></g>
</g>
</svg>
</body></html>
